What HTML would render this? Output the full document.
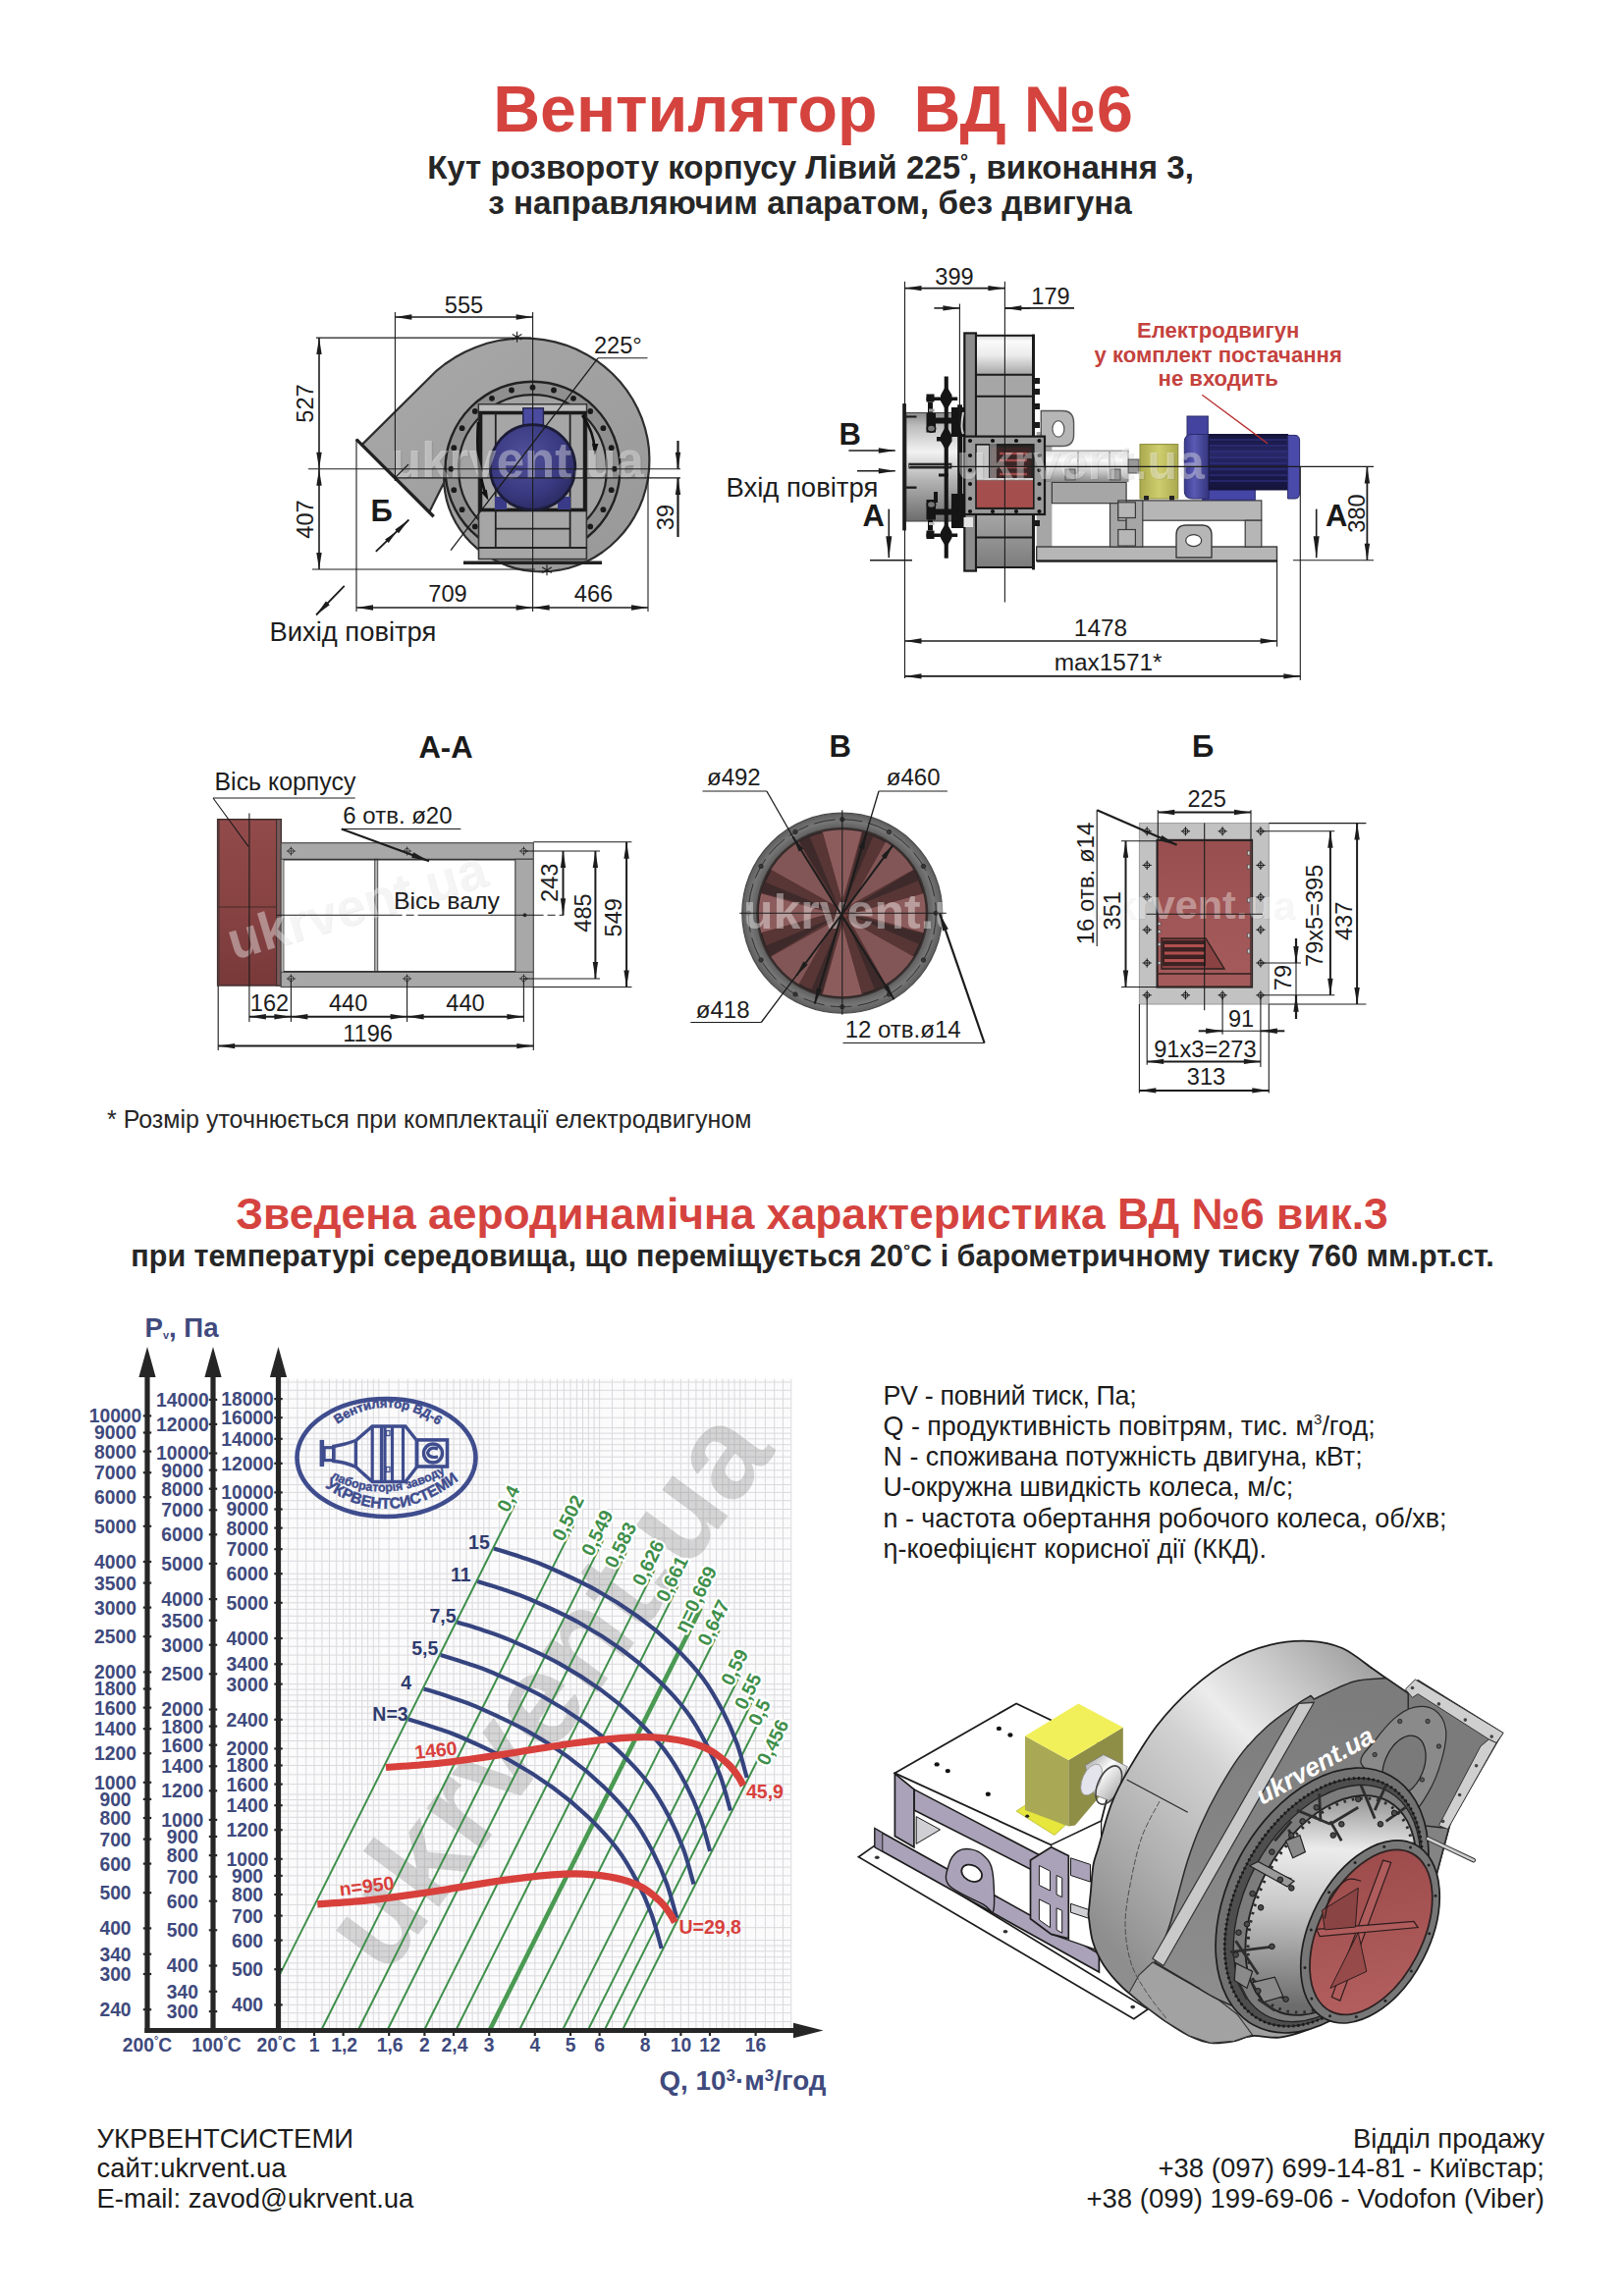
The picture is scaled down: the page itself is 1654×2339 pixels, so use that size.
<!DOCTYPE html>
<html lang="uk"><head><meta charset="utf-8"><title>Вентилятор ВД №6</title>
<style>
html,body{margin:0;padding:0;background:#fff;}
body{width:1654px;height:2339px;overflow:hidden;}
svg{display:block;font-family:"Liberation Sans",sans-serif;}
</style></head><body>
<svg width="1654" height="2339" viewBox="0 0 1654 2339">
<rect width="1654" height="2339" fill="#fff"/>
<g id="texts">
<text x="828" y="133.5" font-size="66.3" font-weight="bold" text-anchor="middle" fill="#d5433f" >Вентилятор&#160;&#160;ВД №6</text>
<text x="825.5" y="181.5" font-size="33.1" font-weight="bold" text-anchor="middle" fill="#262626" >Кут розвороту корпусу Лівий 225<tspan font-size="20" dy="-11">°</tspan><tspan dy="11">, виконання 3,</tspan></text>
<text x="825" y="217.5" font-size="33.2" font-weight="bold" text-anchor="middle" fill="#262626" >з направляючим апаратом, без двигуна</text>
<text x="109" y="1149" font-size="25" fill="#262626" >* Розмір уточнюється при комплектації електродвигуном</text>
<text x="827" y="1251.7" font-size="44.4" font-weight="bold" text-anchor="middle" fill="#d5433f" >Зведена аеродинамічна характеристика ВД №6 вик.3</text>
<text x="827.5" y="1290" font-size="30.5" font-weight="bold" text-anchor="middle" fill="#262626" >при температурі середовища, що переміщується 20<tspan font-size="18" dy="-10">°</tspan><tspan dy="10">С і барометричному тиску 760 мм.рт.ст.</tspan></text>
<text x="899.5" y="1430.9" font-size="26.9" fill="#1c1c1c" letter-spacing="-0.35">PV - повний тиск, Па;</text>
<text x="899.5" y="1461.9" font-size="26.9" fill="#1c1c1c" >Q - продуктивність повітрям, тис. м<tspan font-size="15" dy="-11">3</tspan><tspan dy="11">/год;</tspan></text>
<text x="899.5" y="1493.4" font-size="26.9" fill="#1c1c1c" >N - споживана потужність двигуна, кВт;</text>
<text x="899.5" y="1524.4" font-size="26.9" fill="#1c1c1c" >U-окружна швидкість колеса, м/с;</text>
<text x="899.5" y="1555.9" font-size="26.9" fill="#1c1c1c" >n - частота обертання робочого колеса, об/хв;</text>
<text x="899.5" y="1586.9" font-size="26.9" fill="#1c1c1c" >η-коефіцієнт корисної дії (ККД).</text>
<text x="98.5" y="2187.7" font-size="27.5" fill="#1c1c1c" >УКРВЕНТСИСТЕМИ</text>
<text x="98.5" y="2218.2" font-size="27.5" fill="#1c1c1c" >сайт:ukrvent.ua</text>
<text x="98.5" y="2248.7" font-size="27.5" fill="#1c1c1c" >E-mail: zavod@ukrvent.ua</text>
<text x="1573" y="2187.7" font-size="27.5" text-anchor="end" fill="#1c1c1c" >Відділ продажу</text>
<text x="1573" y="2218.2" font-size="27.5" text-anchor="end" fill="#1c1c1c" >+38 (097) 699-14-81 - Київстар;</text>
<text x="1573" y="2248.7" font-size="27.5" text-anchor="end" fill="#1c1c1c" >+38 (099) 199-69-06 - Vodofon (Viber)</text>
</g>
<g id="chart">
<rect x="283.5" y="1404.7" width="522" height="663.8" fill="#fbfbfc" stroke="none" stroke-width="1" />
<path d="M293.6,1404.7V2068.5M302.9,1404.7V2068.5M311.7,1404.7V2068.5M320,1404.7V2068.5M327.9,1404.7V2068.5M335.5,1404.7V2068.5M342.7,1404.7V2068.5M349.6,1404.7V2068.5M356.2,1404.7V2068.5M362.5,1404.7V2068.5M368.7,1404.7V2068.5M374.6,1404.7V2068.5M380.3,1404.7V2068.5M385.8,1404.7V2068.5M396.2,1404.7V2068.5M406,1404.7V2068.5M415.3,1404.7V2068.5M424.1,1404.7V2068.5M432.4,1404.7V2068.5M440.3,1404.7V2068.5M447.9,1404.7V2068.5M455.1,1404.7V2068.5M462,1404.7V2068.5M468.6,1404.7V2068.5M475,1404.7V2068.5M481.1,1404.7V2068.5M487,1404.7V2068.5M492.7,1404.7V2068.5M498.2,1404.7V2068.5M508.6,1404.7V2068.5M518.5,1404.7V2068.5M527.7,1404.7V2068.5M536.5,1404.7V2068.5M544.8,1404.7V2068.5M552.7,1404.7V2068.5M560.3,1404.7V2068.5M567.5,1404.7V2068.5M574.4,1404.7V2068.5M581,1404.7V2068.5M587.4,1404.7V2068.5M593.5,1404.7V2068.5M599.4,1404.7V2068.5M605.1,1404.7V2068.5M610.6,1404.7V2068.5M623.5,1404.7V2068.5M635.6,1404.7V2068.5M646.7,1404.7V2068.5M657.2,1404.7V2068.5M667,1404.7V2068.5M676.3,1404.7V2068.5M685.1,1404.7V2068.5M693.4,1404.7V2068.5M701.3,1404.7V2068.5M708.9,1404.7V2068.5M716.1,1404.7V2068.5M723,1404.7V2068.5M729.6,1404.7V2068.5M735.9,1404.7V2068.5M742.1,1404.7V2068.5M748,1404.7V2068.5M753.7,1404.7V2068.5M759.2,1404.7V2068.5M769.6,1404.7V2068.5M779.4,1404.7V2068.5M788.7,1404.7V2068.5M797.5,1404.7V2068.5M805.8,1404.7V2068.5M283.5,2059.5H805.5M283.5,2050.7H805.5M283.5,2042.4H805.5M283.5,2034.5H805.5M283.5,2026.9H805.5M283.5,2019.7H805.5M283.5,2012.8H805.5M283.5,2006.2H805.5M283.5,1999.8H805.5M283.5,1993.7H805.5M283.5,1987.8H805.5M283.5,1982.1H805.5M283.5,1976.6H805.5M283.5,1963.7H805.5M283.5,1951.6H805.5M283.5,1940.5H805.5M283.5,1930H805.5M283.5,1920.2H805.5M283.5,1910.9H805.5M283.5,1902.1H805.5M283.5,1893.8H805.5M283.5,1885.9H805.5M283.5,1878.3H805.5M283.5,1871.1H805.5M283.5,1864.2H805.5M283.5,1857.6H805.5M283.5,1851.3H805.5M283.5,1845.1H805.5M283.5,1839.2H805.5M283.5,1833.5H805.5M283.5,1828H805.5M283.5,1817.6H805.5M283.5,1807.8H805.5M283.5,1798.5H805.5M283.5,1789.7H805.5M283.5,1781.4H805.5M283.5,1773.5H805.5M283.5,1765.9H805.5M283.5,1758.7H805.5M283.5,1751.8H805.5M283.5,1745.2H805.5M283.5,1738.8H805.5M283.5,1732.7H805.5M283.5,1726.8H805.5M283.5,1721.1H805.5M283.5,1715.6H805.5M283.5,1705.2H805.5M283.5,1695.3H805.5M283.5,1686.1H805.5M283.5,1677.3H805.5M283.5,1669H805.5M283.5,1661.1H805.5M283.5,1653.5H805.5M283.5,1646.3H805.5M283.5,1639.4H805.5M283.5,1632.8H805.5M283.5,1626.4H805.5M283.5,1620.3H805.5M283.5,1614.4H805.5M283.5,1608.7H805.5M283.5,1603.2H805.5M283.5,1590.3H805.5M283.5,1578.2H805.5M283.5,1567.1H805.5M283.5,1556.6H805.5M283.5,1546.8H805.5M283.5,1537.5H805.5M283.5,1528.7H805.5M283.5,1520.4H805.5M283.5,1512.5H805.5M283.5,1504.9H805.5M283.5,1497.7H805.5M283.5,1490.8H805.5M283.5,1484.2H805.5M283.5,1477.9H805.5M283.5,1471.7H805.5M283.5,1465.8H805.5M283.5,1460.1H805.5M283.5,1454.6H805.5M283.5,1444.2H805.5M283.5,1434.4H805.5M283.5,1425.1H805.5M283.5,1416.3H805.5M283.5,1408H805.5" fill="none" stroke="#dadade" stroke-width="1" />
<text x="0" y="0" font-size="132" font-weight="bold" fill="#7d7d7d" fill-opacity="0.31" transform="translate(393.4,2014.8) rotate(-53.5)">ukrvent.ua</text>
<line x1="283.5" y1="2014.4" x2="524.5" y2="1532.5" stroke="#3f8f4b" stroke-width="2" />
<line x1="327.8" y1="2067" x2="584.3" y2="1553.9" stroke="#3f8f4b" stroke-width="2" />
<line x1="365.3" y1="2067" x2="614.2" y2="1569.1" stroke="#3f8f4b" stroke-width="2" />
<line x1="395.1" y1="2067" x2="638" y2="1581.3" stroke="#3f8f4b" stroke-width="2" />
<line x1="432.6" y1="2067" x2="666.3" y2="1599.6" stroke="#3f8f4b" stroke-width="2" />
<line x1="464.9" y1="2067" x2="690.5" y2="1615.8" stroke="#3f8f4b" stroke-width="2" />
<line x1="499.3" y1="2067" x2="713.7" y2="1638.2" stroke="#4a9a52" stroke-width="4.6" />
<line x1="529.5" y1="2067" x2="732.8" y2="1660.5" stroke="#3f8f4b" stroke-width="2" />
<line x1="573.5" y1="2067" x2="754.4" y2="1705.2" stroke="#3f8f4b" stroke-width="2" />
<line x1="599.4" y1="2067" x2="768.1" y2="1729.6" stroke="#3f8f4b" stroke-width="2" />
<line x1="616.2" y1="2067" x2="774.2" y2="1751" stroke="#3f8f4b" stroke-width="2" />
<line x1="634.5" y1="2067" x2="775.8" y2="1784.5" stroke="#3f8f4b" stroke-width="2" />
<text x="0" y="0" font-size="19.5" font-weight="bold" fill="#3f8f4b" stroke="#ffffff" stroke-width="4.5" stroke-linejoin="round" paint-order="stroke" transform="translate(517.6,1541.8) rotate(-63.4)">0,4</text>
<text x="0" y="0" font-size="19.5" font-weight="bold" fill="#3f8f4b" stroke="#ffffff" stroke-width="4.5" stroke-linejoin="round" paint-order="stroke" transform="translate(573.4,1571.3) rotate(-63.4)">0,502</text>
<text x="0" y="0" font-size="19.5" font-weight="bold" fill="#3f8f4b" stroke="#ffffff" stroke-width="4.5" stroke-linejoin="round" paint-order="stroke" transform="translate(603.3,1586.5) rotate(-63.4)">0,549</text>
<text x="0" y="0" font-size="19.5" font-weight="bold" fill="#3f8f4b" stroke="#ffffff" stroke-width="4.5" stroke-linejoin="round" paint-order="stroke" transform="translate(627,1598.7) rotate(-63.4)">0,583</text>
<text x="0" y="0" font-size="19.5" font-weight="bold" fill="#3f8f4b" stroke="#ffffff" stroke-width="4.5" stroke-linejoin="round" paint-order="stroke" transform="translate(655.3,1617) rotate(-63.4)">0,626</text>
<text x="0" y="0" font-size="19.5" font-weight="bold" fill="#3f8f4b" stroke="#ffffff" stroke-width="4.5" stroke-linejoin="round" paint-order="stroke" transform="translate(679.5,1633.2) rotate(-63.4)">0,661</text>
<text x="0" y="0" font-size="19.5" font-weight="bold" fill="#3f8f4b" stroke="#ffffff" stroke-width="4.5" stroke-linejoin="round" paint-order="stroke" transform="translate(698.4,1664.4) rotate(-63.4)">η=0,669</text>
<text x="0" y="0" font-size="19.5" font-weight="bold" fill="#3f8f4b" stroke="#ffffff" stroke-width="4.5" stroke-linejoin="round" paint-order="stroke" transform="translate(721.8,1677.9) rotate(-63.4)">0,647</text>
<text x="0" y="0" font-size="19.5" font-weight="bold" fill="#3f8f4b" stroke="#ffffff" stroke-width="4.5" stroke-linejoin="round" paint-order="stroke" transform="translate(745.5,1718.6) rotate(-63.4)">0,59</text>
<text x="0" y="0" font-size="19.5" font-weight="bold" fill="#3f8f4b" stroke="#ffffff" stroke-width="4.5" stroke-linejoin="round" paint-order="stroke" transform="translate(759.2,1743) rotate(-63.4)">0,55</text>
<text x="0" y="0" font-size="19.5" font-weight="bold" fill="#3f8f4b" stroke="#ffffff" stroke-width="4.5" stroke-linejoin="round" paint-order="stroke" transform="translate(773.2,1759.6) rotate(-63.4)">0,5</text>
<text x="0" y="0" font-size="19.5" font-weight="bold" fill="#3f8f4b" stroke="#ffffff" stroke-width="4.5" stroke-linejoin="round" paint-order="stroke" transform="translate(782.1,1799.7) rotate(-63.4)">0,456</text>
<path d="M503,1577.5 C507.5,1578.9 521.2,1583 530,1586 C538.8,1589 543.2,1589.9 556,1595.5 C568.8,1601.1 590.8,1610.9 606.5,1619.5 C622.2,1628.1 636.8,1637.4 650,1647 C663.2,1656.6 675,1666.5 686,1677 C697,1687.5 707.7,1699 716,1710 C724.3,1721 730.2,1732 736,1743 C741.8,1754 746.4,1764.7 750.5,1776 C754.6,1787.3 759,1805.2 760.7,1811" fill="none" stroke="#35447f" stroke-width="4.2" />
<text x="498.8" y="1577.9" font-size="19.5" font-weight="bold" text-anchor="end" fill="#2f3b6e" >15</text>
<path d="M486.2,1611 C490.7,1612.4 504.4,1616.5 513.2,1619.5 C522.1,1622.5 526.5,1623.4 539.2,1629 C552,1634.6 574.1,1644.4 589.7,1653 C605.4,1661.6 620,1670.9 633.2,1680.5 C646.5,1690.1 658.2,1700 669.2,1710.5 C680.2,1721 690.9,1732.5 699.2,1743.5 C707.6,1754.5 713.5,1765.5 719.2,1776.5 C725,1787.5 729.6,1798.2 733.7,1809.5 C737.9,1820.9 742.2,1838.7 743.9,1844.5" fill="none" stroke="#35447f" stroke-width="4.2" />
<text x="479.6" y="1611.2" font-size="19.5" font-weight="bold" text-anchor="end" fill="#2f3b6e" >11</text>
<path d="M465.5,1652.4 C470,1653.9 483.7,1657.9 492.5,1660.9 C501.4,1663.9 505.8,1664.9 518.5,1670.4 C531.3,1676 553.4,1685.9 569,1694.4 C584.7,1703 599.3,1712.4 612.5,1721.9 C625.8,1731.5 637.5,1741.4 648.5,1751.9 C659.5,1762.4 670.2,1773.9 678.5,1784.9 C686.9,1795.9 692.8,1806.9 698.5,1817.9 C704.3,1828.9 708.9,1839.6 713,1850.9 C717.1,1862.3 721.5,1880.1 723.2,1885.9" fill="none" stroke="#35447f" stroke-width="4.2" />
<text x="464.6" y="1652.7" font-size="19.5" font-weight="bold" text-anchor="end" fill="#2f3b6e" >7,5</text>
<path d="M448.8,1686 C453.3,1687.4 466.9,1691.5 475.8,1694.5 C484.6,1697.5 489,1698.4 501.8,1704 C514.5,1709.6 536.6,1719.4 552.3,1728 C567.9,1736.6 582.5,1745.9 595.8,1755.5 C609,1765.1 620.8,1775 631.8,1785.5 C642.8,1796 653.4,1807.5 661.8,1818.5 C670.1,1829.5 676,1840.5 681.8,1851.5 C687.5,1862.5 692.1,1873.1 696.3,1884.5 C700.4,1895.8 704.8,1913.6 706.5,1919.5" fill="none" stroke="#35447f" stroke-width="4.2" />
<text x="446.3" y="1686" font-size="19.5" font-weight="bold" text-anchor="end" fill="#2f3b6e" >5,5</text>
<path d="M431.6,1720.4 C436.1,1721.8 449.7,1725.9 458.6,1728.9 C467.4,1731.9 471.8,1732.8 484.6,1738.4 C497.3,1744 519.4,1753.8 535.1,1762.4 C550.7,1771 565.3,1780.3 578.6,1789.9 C591.8,1799.5 603.6,1809.4 614.6,1819.9 C625.6,1830.4 636.2,1841.9 644.6,1852.9 C652.9,1863.9 658.8,1874.9 664.6,1885.9 C670.3,1896.9 674.9,1907.6 679.1,1918.9 C683.2,1930.2 687.6,1948.1 689.3,1953.9" fill="none" stroke="#35447f" stroke-width="4.2" />
<text x="419" y="1720.9" font-size="19.5" font-weight="bold" text-anchor="end" fill="#2f3b6e" >4</text>
<path d="M416,1751.5 C420.5,1752.9 434.2,1757 443,1760 C451.8,1763 456.3,1763.9 469,1769.5 C481.8,1775.1 503.8,1784.9 519.5,1793.5 C535.2,1802.1 549.8,1811.4 563,1821 C576.3,1830.6 588,1840.5 599,1851 C610,1861.5 620.7,1873 629,1884 C637.3,1895 643.3,1906 649,1917 C654.8,1928 659.4,1938.7 663.5,1950 C667.6,1961.3 672,1979.2 673.7,1985" fill="none" stroke="#35447f" stroke-width="4.2" />
<text x="415.7" y="1752.5" font-size="19.5" font-weight="bold" text-anchor="end" fill="#2f3b6e" >N=3</text>
<path d="M393,1800.5 C400.8,1799.9 425.5,1798.4 440,1797 C454.5,1795.6 466.3,1793.9 480,1792 C493.7,1790.1 504.2,1788.5 522,1785.8 C539.8,1783 566.5,1778.2 587,1775.5 C607.5,1772.8 630.3,1770.6 645,1769.8 C659.7,1769 665.2,1769.5 675,1770.5 C684.8,1771.5 695.8,1773.3 704,1775.5 C712.2,1777.7 717.7,1779.8 724,1783.5 C730.3,1787.2 737.3,1793.1 742,1797.5 C746.7,1801.9 749.5,1806.4 752,1810 C754.5,1813.6 756.2,1817.5 757,1819" fill="none" stroke="#d8403c" stroke-width="7.2" />
<path d="M323.3,1939.9 C331.1,1939.3 355.8,1937.8 370.3,1936.4 C384.8,1935 396.6,1933.3 410.3,1931.4 C424,1929.5 434.5,1928 452.3,1925.2 C470.1,1922.5 496.8,1917.6 517.3,1914.9 C537.8,1912.2 560.6,1910 575.3,1909.2 C590,1908.4 595.5,1909 605.3,1909.9 C615.1,1910.9 626.1,1912.7 634.3,1914.9 C642.5,1917.1 648,1919.2 654.3,1922.9 C660.6,1926.6 667.6,1932.5 672.3,1936.9 C677,1941.3 679.8,1945.8 682.3,1949.4 C684.8,1953 686.5,1956.9 687.3,1958.4" fill="none" stroke="#d8403c" stroke-width="7.2" />
<text x="423" y="1792" font-size="19.5" font-weight="bold" fill="#d8403c" transform="rotate(-6 423 1792)" >1460</text>
<text x="346.5" y="1931.5" font-size="19.5" font-weight="bold" fill="#d8403c" transform="rotate(-7 346.5 1931.5)" >n=950</text>
<text x="760" y="1831.6" font-size="19.5" font-weight="bold" fill="#d8403c" >45,9</text>
<text x="691.5" y="1970.3" font-size="19.5" font-weight="bold" fill="#d8403c" >U=29,8</text>
<line x1="150" y1="1400" x2="150" y2="2071" stroke="#262626" stroke-width="5.2" />
<polygon points="150,1372 141.4,1403 158.6,1403" fill="#262626" stroke="none" stroke-width="1" />
<line x1="217" y1="1400" x2="217" y2="2071" stroke="#262626" stroke-width="5.2" />
<polygon points="217,1372 208.4,1403 225.6,1403" fill="#262626" stroke="none" stroke-width="1" />
<line x1="283.5" y1="1400" x2="283.5" y2="2071" stroke="#262626" stroke-width="5.2" />
<polygon points="283.5,1372 274.9,1403 292.1,1403" fill="#262626" stroke="none" stroke-width="1" />
<line x1="147.4" y1="2068.5" x2="810" y2="2068.5" stroke="#262626" stroke-width="5.2" />
<polygon points="838.5,2068.5 808,2060.8 808,2076.2" fill="#262626" stroke="none" stroke-width="1" />
<line x1="279.3" y1="1425.1" x2="287.7" y2="1425.1" stroke="#262626" stroke-width="2.2" />
<text x="252" y="1432" font-size="19.3" font-weight="bold" text-anchor="middle" fill="#3f4a7d" >18000</text>
<line x1="279.3" y1="1444.2" x2="287.7" y2="1444.2" stroke="#262626" stroke-width="2.2" />
<text x="252" y="1451.1" font-size="19.3" font-weight="bold" text-anchor="middle" fill="#3f4a7d" >16000</text>
<line x1="279.3" y1="1465.8" x2="287.7" y2="1465.8" stroke="#262626" stroke-width="2.2" />
<text x="252" y="1472.7" font-size="19.3" font-weight="bold" text-anchor="middle" fill="#3f4a7d" >14000</text>
<line x1="279.3" y1="1490.8" x2="287.7" y2="1490.8" stroke="#262626" stroke-width="2.2" />
<text x="252" y="1497.7" font-size="19.3" font-weight="bold" text-anchor="middle" fill="#3f4a7d" >12000</text>
<line x1="279.3" y1="1520.4" x2="287.7" y2="1520.4" stroke="#262626" stroke-width="2.2" />
<text x="252" y="1527.3" font-size="19.3" font-weight="bold" text-anchor="middle" fill="#3f4a7d" >10000</text>
<line x1="279.3" y1="1537.5" x2="287.7" y2="1537.5" stroke="#262626" stroke-width="2.2" />
<text x="252" y="1544.4" font-size="19.3" font-weight="bold" text-anchor="middle" fill="#3f4a7d" >9000</text>
<line x1="279.3" y1="1556.6" x2="287.7" y2="1556.6" stroke="#262626" stroke-width="2.2" />
<text x="252" y="1563.5" font-size="19.3" font-weight="bold" text-anchor="middle" fill="#3f4a7d" >8000</text>
<line x1="279.3" y1="1578.2" x2="287.7" y2="1578.2" stroke="#262626" stroke-width="2.2" />
<text x="252" y="1585.1" font-size="19.3" font-weight="bold" text-anchor="middle" fill="#3f4a7d" >7000</text>
<line x1="279.3" y1="1603.2" x2="287.7" y2="1603.2" stroke="#262626" stroke-width="2.2" />
<text x="252" y="1610.1" font-size="19.3" font-weight="bold" text-anchor="middle" fill="#3f4a7d" >6000</text>
<line x1="279.3" y1="1632.8" x2="287.7" y2="1632.8" stroke="#262626" stroke-width="2.2" />
<text x="252" y="1639.7" font-size="19.3" font-weight="bold" text-anchor="middle" fill="#3f4a7d" >5000</text>
<line x1="279.3" y1="1669" x2="287.7" y2="1669" stroke="#262626" stroke-width="2.2" />
<text x="252" y="1675.9" font-size="19.3" font-weight="bold" text-anchor="middle" fill="#3f4a7d" >4000</text>
<line x1="279.3" y1="1695.3" x2="287.7" y2="1695.3" stroke="#262626" stroke-width="2.2" />
<text x="252" y="1702.2" font-size="19.3" font-weight="bold" text-anchor="middle" fill="#3f4a7d" >3400</text>
<line x1="279.3" y1="1715.6" x2="287.7" y2="1715.6" stroke="#262626" stroke-width="2.2" />
<text x="252" y="1722.5" font-size="19.3" font-weight="bold" text-anchor="middle" fill="#3f4a7d" >3000</text>
<line x1="279.3" y1="1751.8" x2="287.7" y2="1751.8" stroke="#262626" stroke-width="2.2" />
<text x="252" y="1758.7" font-size="19.3" font-weight="bold" text-anchor="middle" fill="#3f4a7d" >2400</text>
<line x1="279.3" y1="1781.4" x2="287.7" y2="1781.4" stroke="#262626" stroke-width="2.2" />
<text x="252" y="1788.3" font-size="19.3" font-weight="bold" text-anchor="middle" fill="#3f4a7d" >2000</text>
<line x1="279.3" y1="1798.5" x2="287.7" y2="1798.5" stroke="#262626" stroke-width="2.2" />
<text x="252" y="1805.4" font-size="19.3" font-weight="bold" text-anchor="middle" fill="#3f4a7d" >1800</text>
<line x1="279.3" y1="1817.6" x2="287.7" y2="1817.6" stroke="#262626" stroke-width="2.2" />
<text x="252" y="1824.5" font-size="19.3" font-weight="bold" text-anchor="middle" fill="#3f4a7d" >1600</text>
<line x1="279.3" y1="1839.2" x2="287.7" y2="1839.2" stroke="#262626" stroke-width="2.2" />
<text x="252" y="1846.1" font-size="19.3" font-weight="bold" text-anchor="middle" fill="#3f4a7d" >1400</text>
<line x1="279.3" y1="1864.2" x2="287.7" y2="1864.2" stroke="#262626" stroke-width="2.2" />
<text x="252" y="1871.1" font-size="19.3" font-weight="bold" text-anchor="middle" fill="#3f4a7d" >1200</text>
<line x1="279.3" y1="1893.8" x2="287.7" y2="1893.8" stroke="#262626" stroke-width="2.2" />
<text x="252" y="1900.7" font-size="19.3" font-weight="bold" text-anchor="middle" fill="#3f4a7d" >1000</text>
<line x1="279.3" y1="1910.9" x2="287.7" y2="1910.9" stroke="#262626" stroke-width="2.2" />
<text x="252" y="1917.8" font-size="19.3" font-weight="bold" text-anchor="middle" fill="#3f4a7d" >900</text>
<line x1="279.3" y1="1930" x2="287.7" y2="1930" stroke="#262626" stroke-width="2.2" />
<text x="252" y="1936.9" font-size="19.3" font-weight="bold" text-anchor="middle" fill="#3f4a7d" >800</text>
<line x1="279.3" y1="1951.6" x2="287.7" y2="1951.6" stroke="#262626" stroke-width="2.2" />
<text x="252" y="1958.5" font-size="19.3" font-weight="bold" text-anchor="middle" fill="#3f4a7d" >700</text>
<line x1="279.3" y1="1976.6" x2="287.7" y2="1976.6" stroke="#262626" stroke-width="2.2" />
<text x="252" y="1983.5" font-size="19.3" font-weight="bold" text-anchor="middle" fill="#3f4a7d" >600</text>
<line x1="279.3" y1="2006.2" x2="287.7" y2="2006.2" stroke="#262626" stroke-width="2.2" />
<text x="252" y="2013.1" font-size="19.3" font-weight="bold" text-anchor="middle" fill="#3f4a7d" >500</text>
<line x1="279.3" y1="2042.4" x2="287.7" y2="2042.4" stroke="#262626" stroke-width="2.2" />
<text x="252" y="2049.3" font-size="19.3" font-weight="bold" text-anchor="middle" fill="#3f4a7d" >400</text>
<line x1="212.8" y1="1425.9" x2="221.2" y2="1425.9" stroke="#262626" stroke-width="2.2" />
<text x="185.8" y="1432.8" font-size="19.3" font-weight="bold" text-anchor="middle" fill="#3f4a7d" >14000</text>
<line x1="212.8" y1="1450.9" x2="221.2" y2="1450.9" stroke="#262626" stroke-width="2.2" />
<text x="185.8" y="1457.8" font-size="19.3" font-weight="bold" text-anchor="middle" fill="#3f4a7d" >12000</text>
<line x1="212.8" y1="1480.5" x2="221.2" y2="1480.5" stroke="#262626" stroke-width="2.2" />
<text x="185.8" y="1487.4" font-size="19.3" font-weight="bold" text-anchor="middle" fill="#3f4a7d" >10000</text>
<line x1="212.8" y1="1497.6" x2="221.2" y2="1497.6" stroke="#262626" stroke-width="2.2" />
<text x="185.8" y="1504.5" font-size="19.3" font-weight="bold" text-anchor="middle" fill="#3f4a7d" >9000</text>
<line x1="212.8" y1="1516.7" x2="221.2" y2="1516.7" stroke="#262626" stroke-width="2.2" />
<text x="185.8" y="1523.6" font-size="19.3" font-weight="bold" text-anchor="middle" fill="#3f4a7d" >8000</text>
<line x1="212.8" y1="1538.3" x2="221.2" y2="1538.3" stroke="#262626" stroke-width="2.2" />
<text x="185.8" y="1545.2" font-size="19.3" font-weight="bold" text-anchor="middle" fill="#3f4a7d" >7000</text>
<line x1="212.8" y1="1563.3" x2="221.2" y2="1563.3" stroke="#262626" stroke-width="2.2" />
<text x="185.8" y="1570.2" font-size="19.3" font-weight="bold" text-anchor="middle" fill="#3f4a7d" >6000</text>
<line x1="212.8" y1="1592.9" x2="221.2" y2="1592.9" stroke="#262626" stroke-width="2.2" />
<text x="185.8" y="1599.8" font-size="19.3" font-weight="bold" text-anchor="middle" fill="#3f4a7d" >5000</text>
<line x1="212.8" y1="1629.1" x2="221.2" y2="1629.1" stroke="#262626" stroke-width="2.2" />
<text x="185.8" y="1636" font-size="19.3" font-weight="bold" text-anchor="middle" fill="#3f4a7d" >4000</text>
<line x1="212.8" y1="1650.7" x2="221.2" y2="1650.7" stroke="#262626" stroke-width="2.2" />
<text x="185.8" y="1657.6" font-size="19.3" font-weight="bold" text-anchor="middle" fill="#3f4a7d" >3500</text>
<line x1="212.8" y1="1675.7" x2="221.2" y2="1675.7" stroke="#262626" stroke-width="2.2" />
<text x="185.8" y="1682.6" font-size="19.3" font-weight="bold" text-anchor="middle" fill="#3f4a7d" >3000</text>
<line x1="212.8" y1="1705.3" x2="221.2" y2="1705.3" stroke="#262626" stroke-width="2.2" />
<text x="185.8" y="1712.2" font-size="19.3" font-weight="bold" text-anchor="middle" fill="#3f4a7d" >2500</text>
<line x1="212.8" y1="1741.5" x2="221.2" y2="1741.5" stroke="#262626" stroke-width="2.2" />
<text x="185.8" y="1748.4" font-size="19.3" font-weight="bold" text-anchor="middle" fill="#3f4a7d" >2000</text>
<line x1="212.8" y1="1758.6" x2="221.2" y2="1758.6" stroke="#262626" stroke-width="2.2" />
<text x="185.8" y="1765.5" font-size="19.3" font-weight="bold" text-anchor="middle" fill="#3f4a7d" >1800</text>
<line x1="212.8" y1="1777.7" x2="221.2" y2="1777.7" stroke="#262626" stroke-width="2.2" />
<text x="185.8" y="1784.6" font-size="19.3" font-weight="bold" text-anchor="middle" fill="#3f4a7d" >1600</text>
<line x1="212.8" y1="1799.3" x2="221.2" y2="1799.3" stroke="#262626" stroke-width="2.2" />
<text x="185.8" y="1806.2" font-size="19.3" font-weight="bold" text-anchor="middle" fill="#3f4a7d" >1400</text>
<line x1="212.8" y1="1824.3" x2="221.2" y2="1824.3" stroke="#262626" stroke-width="2.2" />
<text x="185.8" y="1831.2" font-size="19.3" font-weight="bold" text-anchor="middle" fill="#3f4a7d" >1200</text>
<line x1="212.8" y1="1853.9" x2="221.2" y2="1853.9" stroke="#262626" stroke-width="2.2" />
<text x="185.8" y="1860.8" font-size="19.3" font-weight="bold" text-anchor="middle" fill="#3f4a7d" >1000</text>
<line x1="212.8" y1="1871" x2="221.2" y2="1871" stroke="#262626" stroke-width="2.2" />
<text x="185.8" y="1877.9" font-size="19.3" font-weight="bold" text-anchor="middle" fill="#3f4a7d" >900</text>
<line x1="212.8" y1="1890.1" x2="221.2" y2="1890.1" stroke="#262626" stroke-width="2.2" />
<text x="185.8" y="1897" font-size="19.3" font-weight="bold" text-anchor="middle" fill="#3f4a7d" >800</text>
<line x1="212.8" y1="1911.7" x2="221.2" y2="1911.7" stroke="#262626" stroke-width="2.2" />
<text x="185.8" y="1918.6" font-size="19.3" font-weight="bold" text-anchor="middle" fill="#3f4a7d" >700</text>
<line x1="212.8" y1="1936.7" x2="221.2" y2="1936.7" stroke="#262626" stroke-width="2.2" />
<text x="185.8" y="1943.6" font-size="19.3" font-weight="bold" text-anchor="middle" fill="#3f4a7d" >600</text>
<line x1="212.8" y1="1966.3" x2="221.2" y2="1966.3" stroke="#262626" stroke-width="2.2" />
<text x="185.8" y="1973.2" font-size="19.3" font-weight="bold" text-anchor="middle" fill="#3f4a7d" >500</text>
<line x1="212.8" y1="2002.5" x2="221.2" y2="2002.5" stroke="#262626" stroke-width="2.2" />
<text x="185.8" y="2009.4" font-size="19.3" font-weight="bold" text-anchor="middle" fill="#3f4a7d" >400</text>
<line x1="212.8" y1="2028.8" x2="221.2" y2="2028.8" stroke="#262626" stroke-width="2.2" />
<text x="185.8" y="2035.7" font-size="19.3" font-weight="bold" text-anchor="middle" fill="#3f4a7d" >340</text>
<line x1="212.8" y1="2049.1" x2="221.2" y2="2049.1" stroke="#262626" stroke-width="2.2" />
<text x="185.8" y="2056" font-size="19.3" font-weight="bold" text-anchor="middle" fill="#3f4a7d" >300</text>
<line x1="145.8" y1="1442.4" x2="154.2" y2="1442.4" stroke="#262626" stroke-width="2.2" />
<text x="117.5" y="1449.3" font-size="19.3" font-weight="bold" text-anchor="middle" fill="#3f4a7d" >10000</text>
<line x1="145.8" y1="1459.5" x2="154.2" y2="1459.5" stroke="#262626" stroke-width="2.2" />
<text x="117.5" y="1466.4" font-size="19.3" font-weight="bold" text-anchor="middle" fill="#3f4a7d" >9000</text>
<line x1="145.8" y1="1478.6" x2="154.2" y2="1478.6" stroke="#262626" stroke-width="2.2" />
<text x="117.5" y="1485.5" font-size="19.3" font-weight="bold" text-anchor="middle" fill="#3f4a7d" >8000</text>
<line x1="145.8" y1="1500.2" x2="154.2" y2="1500.2" stroke="#262626" stroke-width="2.2" />
<text x="117.5" y="1507.1" font-size="19.3" font-weight="bold" text-anchor="middle" fill="#3f4a7d" >7000</text>
<line x1="145.8" y1="1525.2" x2="154.2" y2="1525.2" stroke="#262626" stroke-width="2.2" />
<text x="117.5" y="1532.1" font-size="19.3" font-weight="bold" text-anchor="middle" fill="#3f4a7d" >6000</text>
<line x1="145.8" y1="1554.8" x2="154.2" y2="1554.8" stroke="#262626" stroke-width="2.2" />
<text x="117.5" y="1561.7" font-size="19.3" font-weight="bold" text-anchor="middle" fill="#3f4a7d" >5000</text>
<line x1="145.8" y1="1591" x2="154.2" y2="1591" stroke="#262626" stroke-width="2.2" />
<text x="117.5" y="1597.9" font-size="19.3" font-weight="bold" text-anchor="middle" fill="#3f4a7d" >4000</text>
<line x1="145.8" y1="1612.6" x2="154.2" y2="1612.6" stroke="#262626" stroke-width="2.2" />
<text x="117.5" y="1619.5" font-size="19.3" font-weight="bold" text-anchor="middle" fill="#3f4a7d" >3500</text>
<line x1="145.8" y1="1637.6" x2="154.2" y2="1637.6" stroke="#262626" stroke-width="2.2" />
<text x="117.5" y="1644.5" font-size="19.3" font-weight="bold" text-anchor="middle" fill="#3f4a7d" >3000</text>
<line x1="145.8" y1="1667.2" x2="154.2" y2="1667.2" stroke="#262626" stroke-width="2.2" />
<text x="117.5" y="1674.1" font-size="19.3" font-weight="bold" text-anchor="middle" fill="#3f4a7d" >2500</text>
<line x1="145.8" y1="1703.4" x2="154.2" y2="1703.4" stroke="#262626" stroke-width="2.2" />
<text x="117.5" y="1710.3" font-size="19.3" font-weight="bold" text-anchor="middle" fill="#3f4a7d" >2000</text>
<line x1="145.8" y1="1720.5" x2="154.2" y2="1720.5" stroke="#262626" stroke-width="2.2" />
<text x="117.5" y="1727.4" font-size="19.3" font-weight="bold" text-anchor="middle" fill="#3f4a7d" >1800</text>
<line x1="145.8" y1="1739.6" x2="154.2" y2="1739.6" stroke="#262626" stroke-width="2.2" />
<text x="117.5" y="1746.5" font-size="19.3" font-weight="bold" text-anchor="middle" fill="#3f4a7d" >1600</text>
<line x1="145.8" y1="1761.2" x2="154.2" y2="1761.2" stroke="#262626" stroke-width="2.2" />
<text x="117.5" y="1768.1" font-size="19.3" font-weight="bold" text-anchor="middle" fill="#3f4a7d" >1400</text>
<line x1="145.8" y1="1786.2" x2="154.2" y2="1786.2" stroke="#262626" stroke-width="2.2" />
<text x="117.5" y="1793.1" font-size="19.3" font-weight="bold" text-anchor="middle" fill="#3f4a7d" >1200</text>
<line x1="145.8" y1="1815.8" x2="154.2" y2="1815.8" stroke="#262626" stroke-width="2.2" />
<text x="117.5" y="1822.7" font-size="19.3" font-weight="bold" text-anchor="middle" fill="#3f4a7d" >1000</text>
<line x1="145.8" y1="1832.9" x2="154.2" y2="1832.9" stroke="#262626" stroke-width="2.2" />
<text x="117.5" y="1839.8" font-size="19.3" font-weight="bold" text-anchor="middle" fill="#3f4a7d" >900</text>
<line x1="145.8" y1="1852" x2="154.2" y2="1852" stroke="#262626" stroke-width="2.2" />
<text x="117.5" y="1858.9" font-size="19.3" font-weight="bold" text-anchor="middle" fill="#3f4a7d" >800</text>
<line x1="145.8" y1="1873.6" x2="154.2" y2="1873.6" stroke="#262626" stroke-width="2.2" />
<text x="117.5" y="1880.5" font-size="19.3" font-weight="bold" text-anchor="middle" fill="#3f4a7d" >700</text>
<line x1="145.8" y1="1898.6" x2="154.2" y2="1898.6" stroke="#262626" stroke-width="2.2" />
<text x="117.5" y="1905.5" font-size="19.3" font-weight="bold" text-anchor="middle" fill="#3f4a7d" >600</text>
<line x1="145.8" y1="1928.2" x2="154.2" y2="1928.2" stroke="#262626" stroke-width="2.2" />
<text x="117.5" y="1935.1" font-size="19.3" font-weight="bold" text-anchor="middle" fill="#3f4a7d" >500</text>
<line x1="145.8" y1="1964.4" x2="154.2" y2="1964.4" stroke="#262626" stroke-width="2.2" />
<text x="117.5" y="1971.3" font-size="19.3" font-weight="bold" text-anchor="middle" fill="#3f4a7d" >400</text>
<line x1="145.8" y1="1990.7" x2="154.2" y2="1990.7" stroke="#262626" stroke-width="2.2" />
<text x="117.5" y="1997.6" font-size="19.3" font-weight="bold" text-anchor="middle" fill="#3f4a7d" >340</text>
<line x1="145.8" y1="2011" x2="154.2" y2="2011" stroke="#262626" stroke-width="2.2" />
<text x="117.5" y="2017.9" font-size="19.3" font-weight="bold" text-anchor="middle" fill="#3f4a7d" >300</text>
<line x1="145.8" y1="2047.2" x2="154.2" y2="2047.2" stroke="#262626" stroke-width="2.2" />
<text x="117.5" y="2054.1" font-size="19.3" font-weight="bold" text-anchor="middle" fill="#3f4a7d" >240</text>
<line x1="320" y1="2066" x2="320" y2="2074" stroke="#262626" stroke-width="2.2" />
<text x="320" y="2090" font-size="19.3" font-weight="bold" text-anchor="middle" fill="#3f4a7d" >1</text>
<line x1="349.6" y1="2066" x2="349.6" y2="2074" stroke="#262626" stroke-width="2.2" />
<text x="350.6" y="2090" font-size="19.3" font-weight="bold" text-anchor="middle" fill="#3f4a7d" >1,2</text>
<line x1="396.2" y1="2066" x2="396.2" y2="2074" stroke="#262626" stroke-width="2.2" />
<text x="397.2" y="2090" font-size="19.3" font-weight="bold" text-anchor="middle" fill="#3f4a7d" >1,6</text>
<line x1="432.4" y1="2066" x2="432.4" y2="2074" stroke="#262626" stroke-width="2.2" />
<text x="432.4" y="2090" font-size="19.3" font-weight="bold" text-anchor="middle" fill="#3f4a7d" >2</text>
<line x1="462" y1="2066" x2="462" y2="2074" stroke="#262626" stroke-width="2.2" />
<text x="463" y="2090" font-size="19.3" font-weight="bold" text-anchor="middle" fill="#3f4a7d" >2,4</text>
<line x1="498.2" y1="2066" x2="498.2" y2="2074" stroke="#262626" stroke-width="2.2" />
<text x="498.2" y="2090" font-size="19.3" font-weight="bold" text-anchor="middle" fill="#3f4a7d" >3</text>
<line x1="544.8" y1="2066" x2="544.8" y2="2074" stroke="#262626" stroke-width="2.2" />
<text x="544.8" y="2090" font-size="19.3" font-weight="bold" text-anchor="middle" fill="#3f4a7d" >4</text>
<line x1="581" y1="2066" x2="581" y2="2074" stroke="#262626" stroke-width="2.2" />
<text x="581" y="2090" font-size="19.3" font-weight="bold" text-anchor="middle" fill="#3f4a7d" >5</text>
<line x1="610.6" y1="2066" x2="610.6" y2="2074" stroke="#262626" stroke-width="2.2" />
<text x="610.6" y="2090" font-size="19.3" font-weight="bold" text-anchor="middle" fill="#3f4a7d" >6</text>
<line x1="657.2" y1="2066" x2="657.2" y2="2074" stroke="#262626" stroke-width="2.2" />
<text x="657.2" y="2090" font-size="19.3" font-weight="bold" text-anchor="middle" fill="#3f4a7d" >8</text>
<line x1="693.4" y1="2066" x2="693.4" y2="2074" stroke="#262626" stroke-width="2.2" />
<text x="693.4" y="2090" font-size="19.3" font-weight="bold" text-anchor="middle" fill="#3f4a7d" >10</text>
<line x1="723" y1="2066" x2="723" y2="2074" stroke="#262626" stroke-width="2.2" />
<text x="723" y="2090" font-size="19.3" font-weight="bold" text-anchor="middle" fill="#3f4a7d" >12</text>
<line x1="769.6" y1="2066" x2="769.6" y2="2074" stroke="#262626" stroke-width="2.2" />
<text x="769.6" y="2090" font-size="19.3" font-weight="bold" text-anchor="middle" fill="#3f4a7d" >16</text>
<text x="150" y="2090" font-size="19.3" font-weight="bold" text-anchor="middle" fill="#3f4a7d" >200<tspan font-size="11" dy="-8">°</tspan><tspan dy="8">C</tspan></text>
<text x="220.5" y="2090" font-size="19.3" font-weight="bold" text-anchor="middle" fill="#3f4a7d" >100<tspan font-size="11" dy="-8">°</tspan><tspan dy="8">C</tspan></text>
<text x="281.5" y="2090" font-size="19.3" font-weight="bold" text-anchor="middle" fill="#3f4a7d" >20<tspan font-size="11" dy="-8">°</tspan><tspan dy="8">C</tspan></text>
<text x="147.5" y="1362" font-size="27.6" font-weight="bold" fill="#3f4a7d" >P<tspan font-size="11" dy="2">v</tspan><tspan dy="-2">, Па</tspan></text>
<text x="671.5" y="2129.3" font-size="27.8" font-weight="bold" fill="#3f4a7d" >Q, 10<tspan font-size="17" dy="-9">3</tspan><tspan dy="9">·м</tspan><tspan font-size="17" dy="-9">3</tspan><tspan dy="9">/год</tspan></text>
<ellipse cx="393.5" cy="1485" rx="91" ry="60" fill="none" stroke="#3f4d8e" stroke-width="4.6" />
<path id="lgt" d="M328,1463 Q393.5,1404 462,1464" fill="none"/>
<path id="lgm" d="M328,1501 Q393,1541 462,1495" fill="none"/>
<path id="lgb" d="M326,1511 Q396,1566 472,1504" fill="none"/>
<text font-size="13" font-weight="bold" fill="#3f4d8e" stroke="#3f4d8e" stroke-width="0.5" text-anchor="middle"><textPath href="#lgt" startOffset="50%">Вентилятор ВД-6</textPath></text>
<text font-size="12.5" font-weight="bold" fill="#3f4d8e" stroke="#3f4d8e" stroke-width="0.4" text-anchor="middle"><textPath href="#lgm" startOffset="50%">лабораторія заводу</textPath></text>
<text font-size="15.5" font-weight="bold" fill="#3f4d8e" stroke="#3f4d8e" stroke-width="0.5" text-anchor="middle"><textPath href="#lgb" startOffset="50%">УКРВЕНТСИСТЕМИ</textPath></text>
<rect x="325.6" y="1466.9" width="4.5" height="27.1" fill="#3f4d8e" stroke="none" stroke-width="1" />
<rect x="330.1" y="1474.7" width="9.7" height="12.9" fill="none" stroke="#3f4d8e" stroke-width="3.2" />
<path d="M339.8,1473.5 Q352,1471.5 362.4,1467.5 L379.2,1453 H412.9 L424.5,1467.5 V1494.5 L412.9,1509.5 H379.2 L362.4,1494.5 Q352,1489.5 339.8,1488.5 Z" fill="none" stroke="#3f4d8e" stroke-width="3.4" />
<line x1="362.4" y1="1467.5" x2="362.4" y2="1494.5" stroke="#3f4d8e" stroke-width="3.4" />
<line x1="379.2" y1="1453" x2="379.2" y2="1509.5" stroke="#3f4d8e" stroke-width="3.2" />
<line x1="388.5" y1="1453" x2="388.5" y2="1509.5" stroke="#3f4d8e" stroke-width="3.2" />
<line x1="392" y1="1453" x2="392" y2="1509.5" stroke="#3f4d8e" stroke-width="3.2" />
<line x1="399.5" y1="1453" x2="399.5" y2="1509.5" stroke="#3f4d8e" stroke-width="3.2" />
<line x1="410.5" y1="1453" x2="410.5" y2="1509.5" stroke="#3f4d8e" stroke-width="3.2" />
<rect x="424.5" y="1466.9" width="31" height="27.1" fill="none" stroke="#3f4d8e" stroke-width="3.6" />
<circle cx="441" cy="1480.5" r="9.5" fill="none" stroke="#3f4d8e" stroke-width="3.4" />
<path d="M446,1476 Q438,1473 435.5,1480 Q437,1486 446,1484" fill="none" stroke="#3f4d8e" stroke-width="3.2" />
<rect x="393.5" y="1457.5" width="3.5" height="5" fill="none" stroke="#3f4d8e" stroke-width="1.3" />
<rect x="393.5" y="1494.5" width="3.5" height="5" fill="none" stroke="#3f4d8e" stroke-width="1.3" />
</g>
<g id="draw1">
<defs><linearGradient id="volg" x1="0" y1="0" x2="1" y2="1"><stop offset="0" stop-color="#a9a9a9"/><stop offset="1" stop-color="#989898"/></linearGradient><radialGradient id="motg" cx="0.42" cy="0.38" r="0.7"><stop offset="0" stop-color="#52529c"/><stop offset="0.6" stop-color="#3a3a82"/><stop offset="1" stop-color="#28285e"/></radialGradient></defs>
<polygon points="452.5,477.7 452.1,485.6 452.3,493.6 453.3,501.6 454.9,509.6 457.3,517.4 460.4,525.1 464.2,532.5 468.7,539.6 473.8,546.4 479.5,552.7 485.9,558.6 492.7,563.9 500.1,568.6 507.9,572.7 516.1,576.1 524.7,578.9 533.5,580.8 542.5,582 551.7,582.4 560.9,582 570.1,580.7 579.3,578.7 588.3,575.8 597,572.2 605.5,567.7 613.6,562.5 621.3,556.5 628.5,549.8 635.1,542.5 641.1,534.6 646.4,526.1 651,517.2 654.8,507.8 657.7,498 659.9,488 661.1,477.7 661.4,467.3 660.9,456.8 659.4,446.4 656.9,436 653.6,425.9 649.3,416 644.2,406.5 638.2,397.4 631.4,388.8 623.8,380.8 615.5,373.4 606.6,366.7 597,360.9 586.9,355.8 576.3,351.6 565.3,348.4 554,346.1 542.5,344.8 530.8,344.5 519.1,345.3 507.5,347 496,349.8 484.7,353.7 473.7,358.5 463.1,364.3 453,371 443.5,378.7 368.5,453.1 437.2,521.7 453.5,489" fill="url(#volg)" stroke="#2e2e2e" stroke-width="2.2" stroke-linejoin="round"/>
<line x1="363" y1="447.6" x2="441.7" y2="526.2" stroke="#222" stroke-width="3.4" />
<circle cx="542.5" cy="477.7" r="89" fill="#8f8f8f" stroke="#222" stroke-width="2.4" />
<circle cx="542.5" cy="477.7" r="75.5" fill="#a3a3a3" stroke="#222" stroke-width="2.2" />
<circle cx="542.5" cy="394.7" r="2.9" fill="#1a1a1a" stroke="none" stroke-width="1" />
<circle cx="521" cy="397.5" r="2.9" fill="#1a1a1a" stroke="none" stroke-width="1" />
<circle cx="501" cy="405.8" r="2.9" fill="#1a1a1a" stroke="none" stroke-width="1" />
<circle cx="483.8" cy="419" r="2.9" fill="#1a1a1a" stroke="none" stroke-width="1" />
<circle cx="470.6" cy="436.2" r="2.9" fill="#1a1a1a" stroke="none" stroke-width="1" />
<circle cx="462.3" cy="456.2" r="2.9" fill="#1a1a1a" stroke="none" stroke-width="1" />
<circle cx="459.5" cy="477.7" r="2.9" fill="#1a1a1a" stroke="none" stroke-width="1" />
<circle cx="462.3" cy="499.2" r="2.9" fill="#1a1a1a" stroke="none" stroke-width="1" />
<circle cx="470.6" cy="519.2" r="2.9" fill="#1a1a1a" stroke="none" stroke-width="1" />
<circle cx="483.8" cy="536.4" r="2.9" fill="#1a1a1a" stroke="none" stroke-width="1" />
<circle cx="501" cy="549.6" r="2.9" fill="#1a1a1a" stroke="none" stroke-width="1" />
<circle cx="521" cy="557.9" r="2.9" fill="#1a1a1a" stroke="none" stroke-width="1" />
<circle cx="542.5" cy="560.7" r="2.9" fill="#1a1a1a" stroke="none" stroke-width="1" />
<circle cx="564" cy="557.9" r="2.9" fill="#1a1a1a" stroke="none" stroke-width="1" />
<circle cx="584" cy="549.6" r="2.9" fill="#1a1a1a" stroke="none" stroke-width="1" />
<circle cx="601.2" cy="536.4" r="2.9" fill="#1a1a1a" stroke="none" stroke-width="1" />
<circle cx="614.4" cy="519.2" r="2.9" fill="#1a1a1a" stroke="none" stroke-width="1" />
<circle cx="622.7" cy="499.2" r="2.9" fill="#1a1a1a" stroke="none" stroke-width="1" />
<circle cx="625.5" cy="477.7" r="2.9" fill="#1a1a1a" stroke="none" stroke-width="1" />
<circle cx="622.7" cy="456.2" r="2.9" fill="#1a1a1a" stroke="none" stroke-width="1" />
<circle cx="614.4" cy="436.2" r="2.9" fill="#1a1a1a" stroke="none" stroke-width="1" />
<circle cx="601.2" cy="419" r="2.9" fill="#1a1a1a" stroke="none" stroke-width="1" />
<circle cx="584" cy="405.8" r="2.9" fill="#1a1a1a" stroke="none" stroke-width="1" />
<circle cx="564" cy="397.5" r="2.9" fill="#1a1a1a" stroke="none" stroke-width="1" />
<rect x="487.5" y="411.9" width="109.9" height="157.7" fill="#a6a6a6" stroke="#333" stroke-width="1.6" />
<rect x="487.5" y="411.9" width="109.9" height="7.7" fill="#bdbdbd" stroke="#333" stroke-width="1.2" />
<rect x="489.5" y="420.5" width="106.1" height="99" fill="none" stroke="#1a1a1a" stroke-width="3.6" />
<line x1="504.8" y1="420" x2="504.8" y2="558" stroke="#222" stroke-width="1.8" />
<line x1="580.6" y1="420" x2="580.6" y2="558" stroke="#222" stroke-width="1.8" />
<line x1="504.8" y1="538.6" x2="580.6" y2="538.6" stroke="#222" stroke-width="1.6" />
<line x1="487.5" y1="558" x2="597.4" y2="558" stroke="#222" stroke-width="2.2" />
<line x1="472" y1="573.2" x2="613" y2="573.2" stroke="#222" stroke-width="3.4" />
<rect x="532.7" y="415.8" width="20.7" height="24.2" fill="#4a4aa0" stroke="#26264f" stroke-width="1.4" />
<rect x="504" y="506" width="12" height="13" fill="#3a3a88" stroke="none" stroke-width="1" />
<rect x="568" y="506" width="13" height="13" fill="#3a3a88" stroke="none" stroke-width="1" />
<circle cx="542.5" cy="476" r="43.3" fill="url(#motg)" stroke="#1c1c38" stroke-width="2.8" />
<path d="M593,423 Q605,440 605.5,458" fill="none" stroke="#111" stroke-width="2.6" />
<polygon points="605.8,464 603,451.9 609.4,452.1" fill="#111" stroke="none" stroke-width="1" />
<path d="M487,430 Q484,470 494,502" fill="none" stroke="#111" stroke-width="2.6" />
<polygon points="497.5,510 490,501.4 495.8,498.7" fill="#111" stroke="none" stroke-width="1" />
<text x="399.3" y="488.3" font-size="51" font-weight="bold" fill="#444444" fill-opacity="0.12" >ukrvent.ua</text>
<text x="398" y="487" font-size="51" font-weight="bold" fill="#ffffff" fill-opacity="0.37" >ukrvent.ua</text>
<line x1="314" y1="477.7" x2="693" y2="477.7" stroke="#1c1c1c" stroke-width="1.1" />
<line x1="402.4" y1="486.9" x2="693" y2="486.9" stroke="#1c1c1c" stroke-width="1.1" />
<line x1="542.6" y1="318" x2="542.6" y2="623" stroke="#1c1c1c" stroke-width="1.1" />
<line x1="322" y1="344.1" x2="541" y2="344.1" stroke="#1c1c1c" stroke-width="1.1" />
<line x1="318" y1="580" x2="545" y2="580" stroke="#1c1c1c" stroke-width="1.1" />
<line x1="402.4" y1="318" x2="402.4" y2="490" stroke="#1c1c1c" stroke-width="1.1" />
<line x1="363" y1="447" x2="363" y2="623" stroke="#1c1c1c" stroke-width="1.1" />
<line x1="660" y1="485" x2="660" y2="623" stroke="#1c1c1c" stroke-width="1.1" />
<line x1="402.4" y1="323" x2="542.6" y2="323" stroke="#1c1c1c" stroke-width="1.6" /><polygon points="402.4,323 419.4,320.3 419.4,325.7" fill="#1c1c1c" stroke="none" stroke-width="1" /><polygon points="542.6,323 525.6,325.7 525.6,320.3" fill="#1c1c1c" stroke="none" stroke-width="1" />
<text x="472.5" y="319" font-size="23.6" text-anchor="middle" fill="#1c1c1c" >555</text>
<line x1="325" y1="344.1" x2="325" y2="477.7" stroke="#1c1c1c" stroke-width="1.6" /><polygon points="325,344.1 327.7,361.1 322.3,361.1" fill="#1c1c1c" stroke="none" stroke-width="1" /><polygon points="325,477.7 322.3,460.7 327.7,460.7" fill="#1c1c1c" stroke="none" stroke-width="1" />
<text x="319" y="411" font-size="23.6" text-anchor="middle" fill="#1c1c1c" transform="rotate(-90 319 411)" >527</text>
<line x1="325" y1="477.7" x2="325" y2="580" stroke="#1c1c1c" stroke-width="1.6" /><polygon points="325,477.7 327.7,494.7 322.3,494.7" fill="#1c1c1c" stroke="none" stroke-width="1" /><polygon points="325,580 322.3,563 327.7,563" fill="#1c1c1c" stroke="none" stroke-width="1" />
<text x="319" y="529" font-size="23.6" text-anchor="middle" fill="#1c1c1c" transform="rotate(-90 319 529)" >407</text>
<line x1="363" y1="619" x2="542.6" y2="619" stroke="#1c1c1c" stroke-width="1.6" /><polygon points="363,619 380,616.3 380,621.7" fill="#1c1c1c" stroke="none" stroke-width="1" /><polygon points="542.6,619 525.6,621.7 525.6,616.3" fill="#1c1c1c" stroke="none" stroke-width="1" />
<text x="456" y="613" font-size="23.6" text-anchor="middle" fill="#1c1c1c" >709</text>
<line x1="542.6" y1="619" x2="660" y2="619" stroke="#1c1c1c" stroke-width="1.6" /><polygon points="542.6,619 559.6,616.3 559.6,621.7" fill="#1c1c1c" stroke="none" stroke-width="1" /><polygon points="660,619 643,621.7 643,616.3" fill="#1c1c1c" stroke="none" stroke-width="1" />
<text x="604.5" y="613" font-size="23.6" text-anchor="middle" fill="#1c1c1c" >466</text>
<line x1="690.5" y1="449" x2="690.5" y2="477.7" stroke="#1c1c1c" stroke-width="2.2" /><polygon points="690.5,477.7 687.8,460.7 693.2,460.7" fill="#1c1c1c" stroke="none" stroke-width="1" />
<line x1="690.5" y1="547" x2="690.5" y2="486.9" stroke="#1c1c1c" stroke-width="2.2" /><polygon points="690.5,486.9 693.2,503.9 687.8,503.9" fill="#1c1c1c" stroke="none" stroke-width="1" />
<text x="685.5" y="527" font-size="23.6" text-anchor="middle" fill="#1c1c1c" transform="rotate(-90 685.5 527)" >39</text>
<text x="605" y="360.2" font-size="23.6" fill="#1c1c1c" >225°</text>
<line x1="609" y1="364.8" x2="659.5" y2="364.8" stroke="#1c1c1c" stroke-width="1.1" />
<line x1="609" y1="364.8" x2="459" y2="560.6" stroke="#1c1c1c" stroke-width="1.3" />
<line x1="402" y1="487" x2="416" y2="473" stroke="#1c1c1c" stroke-width="1.1" />
<line x1="526.6" y1="337.7" x2="526.6" y2="348.7" stroke="#1c1c1c" stroke-width="1.1" />
<line x1="521.8" y1="340.4" x2="531.4" y2="345.9" stroke="#1c1c1c" stroke-width="1.1" />
<line x1="531.4" y1="340.4" x2="521.8" y2="345.9" stroke="#1c1c1c" stroke-width="1.1" />
<line x1="557" y1="575.2" x2="557" y2="586.2" stroke="#1c1c1c" stroke-width="1.1" />
<line x1="552.2" y1="578" x2="561.8" y2="583.5" stroke="#1c1c1c" stroke-width="1.1" />
<line x1="561.8" y1="578" x2="552.2" y2="583.5" stroke="#1c1c1c" stroke-width="1.1" />
<text x="377.6" y="530.5" font-size="31" font-weight="bold" fill="#1a1a1a" >Б</text>
<line x1="382.8" y1="561.9" x2="416.4" y2="529.5" stroke="#1c1c1c" stroke-width="1.8" /><polygon points="416.4,529.5 406,543.2 402.3,539.4" fill="#1c1c1c" stroke="none" stroke-width="1" />
<polygon points="404,541.5 395.7,553.1 392.1,549.4" fill="#1c1c1c" stroke="none" stroke-width="1" />
<line x1="350.7" y1="596.8" x2="322" y2="626.5" stroke="#1c1c1c" stroke-width="1.8" /><polygon points="322,626.5 331.9,612.4 335.8,616.2" fill="#1c1c1c" stroke="none" stroke-width="1" />
<text x="274.4" y="653.3" font-size="27.4" fill="#1c1c1c" >Вихід повітря</text>
</g>
<g id="draw2">
<defs><linearGradient id="d2top" x1="0" y1="0" x2="0" y2="1"><stop offset="0" stop-color="#d0d0d0"/><stop offset="0.14" stop-color="#fafafa"/><stop offset="0.5" stop-color="#ececec"/><stop offset="1" stop-color="#a4a4a4"/></linearGradient><linearGradient id="d2low" x1="0" y1="0" x2="0" y2="1"><stop offset="0" stop-color="#a6a6a6"/><stop offset="1" stop-color="#7c7c7c"/></linearGradient><linearGradient id="d2cyl" x1="0" y1="0" x2="0" y2="1"><stop offset="0" stop-color="#8a8a8a"/><stop offset="0.12" stop-color="#bcbcbc"/><stop offset="0.36" stop-color="#f2f2f2"/><stop offset="0.62" stop-color="#b4b4b4"/><stop offset="1" stop-color="#6c6c6c"/></linearGradient><linearGradient id="d2brg" x1="0" y1="0" x2="0" y2="1"><stop offset="0" stop-color="#dcdcdc"/><stop offset="0.3" stop-color="#fbfbfb"/><stop offset="0.7" stop-color="#c4c4c4"/><stop offset="1" stop-color="#8c8c8c"/></linearGradient><linearGradient id="d2yel" x1="0" y1="0" x2="1" y2="0"><stop offset="0" stop-color="#aaa94e"/><stop offset="0.5" stop-color="#cfce6e"/><stop offset="1" stop-color="#aaa94e"/></linearGradient><linearGradient id="d2mot" x1="0" y1="0" x2="0" y2="1"><stop offset="0" stop-color="#14143a"/><stop offset="0.35" stop-color="#282868"/><stop offset="0.7" stop-color="#1b1b4e"/><stop offset="1" stop-color="#14143a"/></linearGradient><linearGradient id="d2fan" x1="0" y1="0" x2="1" y2="0"><stop offset="0" stop-color="#3a3a8e"/><stop offset="0.4" stop-color="#5a5ab4"/><stop offset="1" stop-color="#34347e"/></linearGradient></defs>
<rect x="1055.7" y="440" width="15.7" height="117" fill="#a6a6a6" stroke="none" stroke-width="1" />
<rect x="1055.7" y="557" width="244.8" height="14.2" fill="#b6b6b6" stroke="#3a3a3a" stroke-width="1.4" />
<line x1="1055.7" y1="571.6" x2="1300.5" y2="571.6" stroke="#222" stroke-width="2.4" />
<rect x="1071.4" y="491.4" width="75.7" height="21.3" fill="#a6a6a6" stroke="#3a3a3a" stroke-width="1.2" />
<rect x="1130.5" y="512.7" width="16.6" height="44.3" fill="#a6a6a6" stroke="#3a3a3a" stroke-width="1.2" />
<rect x="1138.8" y="509.9" width="146" height="20.3" fill="#b6b6b6" stroke="#3a3a3a" stroke-width="1.2" />
<rect x="1268.2" y="530.2" width="16.6" height="26.8" fill="#b6b6b6" stroke="#3a3a3a" stroke-width="1.2" />
<rect x="1147.1" y="509.9" width="16.7" height="47.1" fill="#a6a6a6" stroke="#3a3a3a" stroke-width="1.2" />
<rect x="1138.8" y="511.8" width="17.6" height="15.7" fill="#b6b6b6" stroke="#3a3a3a" stroke-width="1.2" />
<rect x="1138.8" y="539.5" width="17.6" height="16.6" fill="#b6b6b6" stroke="#3a3a3a" stroke-width="1.2" />
<path d="M1198,568 V545 Q1198,535 1208,535 H1224 Q1234,535 1234,545 V568 Z" fill="#b6b6b6" stroke="#3a3a3a" stroke-width="1.4" />
<ellipse cx="1215.7" cy="550.6" rx="8" ry="6" fill="#fff" stroke="#3a3a3a" stroke-width="1.2" />
<path d="M1060.3,454.5 V418.5 H1082 Q1093.6,418.5 1093.6,431 V443 Q1093.6,454.5 1082,454.5 Z" fill="#b6b6b6" stroke="#555" stroke-width="1.4" />
<ellipse cx="1077.9" cy="436.9" rx="6" ry="8.3" fill="#fff" stroke="#555" stroke-width="1.2" />
<rect x="1064.4" y="459.1" width="84.6" height="31.4" fill="url(#d2brg)" stroke="#888" stroke-width="1" />
<line x1="1098" y1="460" x2="1098" y2="490" stroke="#8a8a8a" stroke-width="1.2" />
<line x1="1130" y1="460" x2="1130" y2="490" stroke="#8a8a8a" stroke-width="1.2" />
<rect x="1085" y="478" width="10" height="11" fill="#9a9a9a" stroke="#555" stroke-width="1" />
<rect x="1131" y="478" width="10" height="11" fill="#9a9a9a" stroke="#555" stroke-width="1" />
<rect x="1149" y="468" width="11" height="14" fill="#999" stroke="#555" stroke-width="1" />
<rect x="1161" y="452.6" width="38.8" height="55.4" fill="url(#d2yel)" stroke="#8c8b3a" stroke-width="1" />
<rect x="1165" y="505" width="5" height="4.5" fill="#222" stroke="none" stroke-width="1" />
<rect x="1191" y="505" width="5" height="4.5" fill="#222" stroke="none" stroke-width="1" />
<rect x="1209" y="424" width="21.3" height="21" fill="#4444a0" stroke="#2a2a6a" stroke-width="1" />
<rect x="1224.7" y="495" width="53.6" height="14.3" fill="#4646a6" stroke="#2a2a6a" stroke-width="1" />
<path d="M1206.3,450 Q1206.3,442.5 1214,442.5 H1231.2 V508 H1214 Q1206.3,508 1206.3,500 Z" fill="url(#d2fan)" stroke="#2a2a6a" stroke-width="1" />
<rect x="1231.2" y="442.5" width="80.4" height="56.5" fill="url(#d2mot)" stroke="#14143a" stroke-width="1" />
<line x1="1232" y1="448" x2="1311" y2="448" stroke="#34348a" stroke-width="1.6" stroke-opacity="0.7"/>
<line x1="1232" y1="454" x2="1311" y2="454" stroke="#34348a" stroke-width="1.6" stroke-opacity="0.7"/>
<line x1="1232" y1="460" x2="1311" y2="460" stroke="#34348a" stroke-width="1.6" stroke-opacity="0.7"/>
<line x1="1232" y1="466" x2="1311" y2="466" stroke="#34348a" stroke-width="1.6" stroke-opacity="0.7"/>
<line x1="1232" y1="472" x2="1311" y2="472" stroke="#34348a" stroke-width="1.6" stroke-opacity="0.7"/>
<line x1="1232" y1="478" x2="1311" y2="478" stroke="#34348a" stroke-width="1.6" stroke-opacity="0.7"/>
<line x1="1232" y1="484" x2="1311" y2="484" stroke="#34348a" stroke-width="1.6" stroke-opacity="0.7"/>
<line x1="1232" y1="490" x2="1311" y2="490" stroke="#34348a" stroke-width="1.6" stroke-opacity="0.7"/>
<path d="M1311.6,443.4 H1319 Q1323.6,443.4 1323.6,449 V502 Q1323.6,508 1319,508 H1311.6 Z" fill="#4a4aaa" stroke="#2a2a6a" stroke-width="1" />
<rect x="982.3" y="339.4" width="11.7" height="242.2" fill="#8c8c8c" stroke="#1a1a1a" stroke-width="2.2" />
<rect x="994" y="341.8" width="58" height="39.9" fill="url(#d2top)" stroke="none" stroke-width="1" />
<rect x="994" y="381.7" width="58" height="62.3" fill="#a6a6a6" stroke="none" stroke-width="1" />
<rect x="994" y="524" width="58" height="54" fill="url(#d2low)" stroke="none" stroke-width="1" />
<rect x="994" y="341.8" width="58" height="236.2" fill="none" stroke="#1a1a1a" stroke-width="2" />
<line x1="994" y1="381.7" x2="1052" y2="381.7" stroke="#1a1a1a" stroke-width="2" />
<line x1="994" y1="403.8" x2="1052" y2="403.8" stroke="#1a1a1a" stroke-width="2" />
<line x1="994" y1="547.5" x2="1052" y2="547.5" stroke="#1a1a1a" stroke-width="2" />
<rect x="1051" y="340.6" width="3" height="239.8" fill="#1a1a1a" stroke="none" stroke-width="1" />
<rect x="1054" y="385" width="5" height="6" fill="#1a1a1a" stroke="none" stroke-width="1" />
<rect x="1054" y="396" width="5" height="6" fill="#1a1a1a" stroke="none" stroke-width="1" />
<rect x="1054" y="411" width="5" height="6" fill="#1a1a1a" stroke="none" stroke-width="1" />
<rect x="1054" y="430" width="5" height="6" fill="#1a1a1a" stroke="none" stroke-width="1" />
<rect x="1054" y="530" width="5" height="6" fill="#1a1a1a" stroke="none" stroke-width="1" />
<rect x="982.3" y="444.6" width="81.7" height="79.4" fill="#9a9a9a" stroke="#1a1a1a" stroke-width="2.2" />
<rect x="994" y="452.9" width="58.8" height="65.2" fill="#2a2424" stroke="#1a1a1a" stroke-width="1.6" />
<rect x="994.8" y="453.7" width="12.2" height="33.3" fill="#c6c6c6" stroke="none" stroke-width="1" />
<rect x="1010" y="456" width="40" height="31" fill="#3a2626" stroke="none" stroke-width="1" />
<line x1="1018" y1="462" x2="1046" y2="462" stroke="#a04848" stroke-width="2.4" />
<line x1="1018" y1="469" x2="1046" y2="469" stroke="#a04848" stroke-width="2.4" />
<line x1="1018" y1="476" x2="1046" y2="476" stroke="#a04848" stroke-width="2.4" />
<line x1="1018" y1="483" x2="1046" y2="483" stroke="#a04848" stroke-width="2.4" />
<rect x="994.8" y="487" width="57.2" height="2.5" fill="#cfcfcf" stroke="none" stroke-width="1" />
<rect x="994.8" y="489.5" width="57.2" height="27.4" fill="#a54e4e" stroke="none" stroke-width="1" />
<circle cx="988" cy="449" r="2.1" fill="#111" stroke="none" stroke-width="1" />
<circle cx="988" cy="521" r="2.1" fill="#111" stroke="none" stroke-width="1" />
<circle cx="1011" cy="449" r="2.1" fill="#111" stroke="none" stroke-width="1" />
<circle cx="1011" cy="521" r="2.1" fill="#111" stroke="none" stroke-width="1" />
<circle cx="1035" cy="449" r="2.1" fill="#111" stroke="none" stroke-width="1" />
<circle cx="1035" cy="521" r="2.1" fill="#111" stroke="none" stroke-width="1" />
<circle cx="1058.5" cy="449" r="2.1" fill="#111" stroke="none" stroke-width="1" />
<circle cx="1058.5" cy="521" r="2.1" fill="#111" stroke="none" stroke-width="1" />
<circle cx="988" cy="464" r="2.1" fill="#111" stroke="none" stroke-width="1" />
<circle cx="1058.5" cy="464" r="2.1" fill="#111" stroke="none" stroke-width="1" />
<circle cx="988" cy="479" r="2.1" fill="#111" stroke="none" stroke-width="1" />
<circle cx="1058.5" cy="479" r="2.1" fill="#111" stroke="none" stroke-width="1" />
<circle cx="988" cy="493" r="2.1" fill="#111" stroke="none" stroke-width="1" />
<circle cx="1058.5" cy="493" r="2.1" fill="#111" stroke="none" stroke-width="1" />
<circle cx="988" cy="508" r="2.1" fill="#111" stroke="none" stroke-width="1" />
<circle cx="1058.5" cy="508" r="2.1" fill="#111" stroke="none" stroke-width="1" />
<rect x="922.9" y="420.5" width="57.1" height="110.5" fill="url(#d2cyl)" stroke="#444" stroke-width="1" />
<rect x="919.2" y="411.1" width="3.7" height="129.3" fill="#1a1a1a" stroke="none" stroke-width="1" />
<rect x="922.9" y="423.5" width="10.6" height="2" fill="#1a1a1a" stroke="none" stroke-width="1" />
<rect x="922.9" y="495.5" width="10.6" height="2.3" fill="#1a1a1a" stroke="none" stroke-width="1" />
<rect x="925.3" y="471.7" width="44.1" height="5.8" fill="#2a2a2a" stroke="none" stroke-width="1" />
<line x1="926" y1="474.6" x2="968" y2="474.6" stroke="#bbb" stroke-width="1.2" />
<rect x="961.7" y="383.5" width="4.1" height="185.2" fill="#151515" stroke="none" stroke-width="1" />
<rect x="975.2" y="412.3" width="4.8" height="124.6" fill="#151515" stroke="none" stroke-width="1" />
<rect x="969" y="415" width="14" height="30" fill="#151515" stroke="none" stroke-width="1" />
<rect x="969" y="503" width="14" height="35" fill="#151515" stroke="none" stroke-width="1" />
<polygon points="963.7,392.5 969.5,402.5 969.5,408.5 963.7,418.5 958,408.5 958,402.5" fill="#151515" stroke="none" stroke-width="1" />
<polygon points="963.7,433.5 969.5,443.5 969.5,449.5 963.7,459.5 958,449.5 958,443.5" fill="#151515" stroke="none" stroke-width="1" />
<polygon points="963.7,532 969.5,542 969.5,548 963.7,558 958,548 958,542" fill="#151515" stroke="none" stroke-width="1" />
<rect x="943.5" y="404.5" width="31.7" height="3.5" fill="#151515" stroke="none" stroke-width="1" />
<rect x="943.5" y="543.5" width="31.7" height="3.5" fill="#151515" stroke="none" stroke-width="1" />
<rect x="954" y="445" width="8" height="4.5" fill="#151515" stroke="none" stroke-width="1" />
<rect x="956" y="482.5" width="10" height="3" fill="#151515" stroke="none" stroke-width="1" />
<rect x="943.5" y="401.5" width="8" height="8" fill="#151515" stroke="none" stroke-width="1" />
<rect x="945" y="409.5" width="5" height="11.5" fill="#151515" stroke="none" stroke-width="1" />
<rect x="943.5" y="421" width="9.5" height="19.5" fill="#151515" stroke="none" stroke-width="1" />
<rect x="948" y="425.5" width="27" height="6" fill="#151515" stroke="none" stroke-width="1" />
<rect x="943.5" y="540.5" width="8" height="8.5" fill="#151515" stroke="none" stroke-width="1" />
<rect x="945" y="529.5" width="5" height="11" fill="#151515" stroke="none" stroke-width="1" />
<rect x="943.5" y="509" width="9.5" height="20.5" fill="#151515" stroke="none" stroke-width="1" />
<rect x="948" y="518.5" width="27" height="6" fill="#151515" stroke="none" stroke-width="1" />
<rect x="951" y="501" width="4" height="11" fill="#151515" stroke="none" stroke-width="1" />
<rect x="946" y="416.5" width="5.5" height="3" fill="#999" stroke="none" stroke-width="1" />
<rect x="946" y="532" width="5.5" height="3" fill="#bbb" stroke="none" stroke-width="1" />
<ellipse cx="948.5" cy="436.5" rx="4.2" ry="3.6" fill="#777" stroke="#151515" stroke-width="1.6" />
<ellipse cx="948.5" cy="514" rx="4.2" ry="3.6" fill="#777" stroke="#151515" stroke-width="1.6" />
<path d="M981,420 Q978,436 981,442" fill="none" stroke="#ccc" stroke-width="2" />
<rect x="981.5" y="527" width="9.5" height="10" fill="#e4e4e4" stroke="none" stroke-width="1" />
<text x="975.3" y="489.3" font-size="50" font-weight="bold" fill="#444444" fill-opacity="0.1" >ukrvent.ua</text>
<text x="974" y="488" font-size="50" font-weight="bold" fill="#ffffff" fill-opacity="0.36" >ukrvent.ua</text>
<line x1="921.5" y1="286.7" x2="921.5" y2="691" stroke="#1c1c1c" stroke-width="1.1" />
<line x1="977.4" y1="309.6" x2="977.4" y2="432" stroke="#1c1c1c" stroke-width="1.1" />
<line x1="1023.4" y1="286.7" x2="1023.4" y2="613.4" stroke="#1c1c1c" stroke-width="1.1" />
<line x1="927" y1="475.4" x2="1399" y2="475.4" stroke="#1c1c1c" stroke-width="1.1" />
<line x1="1317" y1="570.8" x2="1399" y2="570.8" stroke="#1c1c1c" stroke-width="1.1" />
<line x1="886" y1="570.8" x2="929" y2="570.8" stroke="#1c1c1c" stroke-width="1.4" />
<line x1="1300.6" y1="571" x2="1300.6" y2="658.7" stroke="#1c1c1c" stroke-width="1.1" />
<line x1="1324.3" y1="476" x2="1324.3" y2="693" stroke="#1c1c1c" stroke-width="1.1" />
<line x1="921.5" y1="293.6" x2="1023.4" y2="293.6" stroke="#1c1c1c" stroke-width="1.6" /><polygon points="921.5,293.6 938.5,290.9 938.5,296.3" fill="#1c1c1c" stroke="none" stroke-width="1" /><polygon points="1023.4,293.6 1006.4,296.3 1006.4,290.9" fill="#1c1c1c" stroke="none" stroke-width="1" />
<text x="972" y="289.5" font-size="23.6" text-anchor="middle" fill="#1c1c1c" >399</text>
<line x1="951.4" y1="313.9" x2="977.4" y2="313.9" stroke="#1c1c1c" stroke-width="1.6" /><line x1="1023.4" y1="313.9" x2="1049.4" y2="313.9" stroke="#1c1c1c" stroke-width="1.6" /><polygon points="977.4,313.9 960.4,316.6 960.4,311.2" fill="#1c1c1c" stroke="none" stroke-width="1" /><polygon points="1023.4,313.9 1040.4,311.2 1040.4,316.6" fill="#1c1c1c" stroke="none" stroke-width="1" />
<line x1="1023.4" y1="313.9" x2="1094" y2="313.9" stroke="#1c1c1c" stroke-width="1.6" />
<text x="1070" y="309.8" font-size="23.6" text-anchor="middle" fill="#1c1c1c" >179</text>
<line x1="1392.4" y1="475.4" x2="1392.4" y2="570.8" stroke="#1c1c1c" stroke-width="1.8" /><polygon points="1392.4,475.4 1395.1,492.4 1389.7,492.4" fill="#1c1c1c" stroke="none" stroke-width="1" /><polygon points="1392.4,570.8 1389.7,553.8 1395.1,553.8" fill="#1c1c1c" stroke="none" stroke-width="1" />
<text x="1389.5" y="523" font-size="23.6" text-anchor="middle" fill="#1c1c1c" transform="rotate(-90 1389.5 523)" >380</text>
<line x1="921.5" y1="653" x2="1300.6" y2="653" stroke="#1c1c1c" stroke-width="1.6" /><polygon points="921.5,653 938.5,650.3 938.5,655.7" fill="#1c1c1c" stroke="none" stroke-width="1" /><polygon points="1300.6,653 1283.6,655.7 1283.6,650.3" fill="#1c1c1c" stroke="none" stroke-width="1" />
<text x="1121" y="648" font-size="24.4" text-anchor="middle" fill="#1c1c1c" >1478</text>
<line x1="921.5" y1="688.9" x2="1324.3" y2="688.9" stroke="#1c1c1c" stroke-width="1.6" /><polygon points="921.5,688.9 938.5,686.2 938.5,691.6" fill="#1c1c1c" stroke="none" stroke-width="1" /><polygon points="1324.3,688.9 1307.3,691.6 1307.3,686.2" fill="#1c1c1c" stroke="none" stroke-width="1" />
<text x="1128.6" y="682.8" font-size="24.4" text-anchor="middle" fill="#1c1c1c" >max1571*</text>
<text x="1240.7" y="344" font-size="22.1" font-weight="bold" text-anchor="middle" fill="#c4423e" >Електродвигун</text>
<text x="1240.7" y="368.6" font-size="22.1" font-weight="bold" text-anchor="middle" fill="#c4423e" >у комплект постачання</text>
<text x="1240.7" y="392.8" font-size="22.1" font-weight="bold" text-anchor="middle" fill="#c4423e" >не входить</text>
<line x1="1224.3" y1="402.2" x2="1291" y2="451.8" stroke="#b83030" stroke-width="1.3" />
<text x="854.5" y="453.3" font-size="31" font-weight="bold" fill="#1a1a1a" >В</text>
<line x1="864.4" y1="459" x2="911.8" y2="459" stroke="#1c1c1c" stroke-width="1.6" /><polygon points="911.8,459 894.8,461.7 894.8,456.3" fill="#1c1c1c" stroke="none" stroke-width="1" />
<line x1="873" y1="479.8" x2="911.8" y2="479.8" stroke="#1c1c1c" stroke-width="1.6" /><polygon points="911.8,479.8 894.8,482.5 894.8,477.1" fill="#1c1c1c" stroke="none" stroke-width="1" />
<text x="739.4" y="505.7" font-size="27.5" fill="#1c1c1c" >Вхід повітря</text>
<text x="878.6" y="535.9" font-size="31" font-weight="bold" fill="#1a1a1a" >А</text>
<line x1="905.3" y1="518.6" x2="905.3" y2="568.2" stroke="#1c1c1c" stroke-width="1.6" /><polygon points="905.3,568.2 902.3,546.2 908.3,546.2" fill="#1c1c1c" stroke="none" stroke-width="1" />
<text x="1350" y="535.9" font-size="31" font-weight="bold" fill="#1a1a1a" >А</text>
<line x1="1340.7" y1="518.6" x2="1340.7" y2="568.2" stroke="#1c1c1c" stroke-width="1.6" /><polygon points="1340.7,568.2 1337.7,546.2 1343.7,546.2" fill="#1c1c1c" stroke="none" stroke-width="1" />
</g>
<g id="draw3">
<text x="454" y="771.6" font-size="31" font-weight="bold" text-anchor="middle" fill="#1a1a1a" >А-А</text>
<defs><linearGradient id="d3red" x1="0" y1="0" x2="0" y2="1"><stop offset="0" stop-color="#924a4a"/><stop offset="0.5" stop-color="#884343"/><stop offset="1" stop-color="#793939"/></linearGradient></defs>
<rect x="221.6" y="834.7" width="64.6" height="169.3" fill="url(#d3red)" stroke="#3a2a2a" stroke-width="1.4" />
<rect x="221.6" y="834.7" width="2.2" height="169.3" fill="#5a3a3a" stroke="none" stroke-width="1" />
<rect x="281.6" y="834.7" width="4.6" height="169.3" fill="#7a5a5a" stroke="#3a2a2a" stroke-width="1" />
<line x1="221.6" y1="924" x2="281.6" y2="924" stroke="#4a2a2a" stroke-width="1.2" />
<rect x="286.2" y="858.7" width="257.1" height="16.6" fill="#a8a8a8" stroke="#4a4a4a" stroke-width="1.2" />
<rect x="286.2" y="990.2" width="257.1" height="15.3" fill="#a8a8a8" stroke="#4a4a4a" stroke-width="1.2" />
<rect x="524.8" y="875.3" width="18.5" height="114.9" fill="#a8a8a8" stroke="#4a4a4a" stroke-width="1.2" />
<rect x="381.7" y="875.3" width="3" height="114.9" fill="#b8b8b8" stroke="#4a4a4a" stroke-width="1" />
<rect x="286.2" y="875.3" width="2.8" height="114.9" fill="#b8b8b8" stroke="#4a4a4a" stroke-width="0.8" />
<line x1="289" y1="875.8" x2="524.8" y2="875.8" stroke="#333" stroke-width="1.6" />
<line x1="289" y1="989.7" x2="524.8" y2="989.7" stroke="#333" stroke-width="1.6" />
<circle cx="296.4" cy="867" r="2.6" fill="#ddd" stroke="#333" stroke-width="1" />
<line x1="291.9" y1="867" x2="300.9" y2="867" stroke="#222" stroke-width="0.9" />
<line x1="296.4" y1="862.5" x2="296.4" y2="871.5" stroke="#222" stroke-width="0.9" />
<circle cx="296.4" cy="997" r="2.6" fill="#ddd" stroke="#333" stroke-width="1" />
<line x1="291.9" y1="997" x2="300.9" y2="997" stroke="#222" stroke-width="0.9" />
<line x1="296.4" y1="992.5" x2="296.4" y2="1001.5" stroke="#222" stroke-width="0.9" />
<circle cx="414.6" cy="867" r="2.6" fill="#ddd" stroke="#333" stroke-width="1" />
<line x1="410.1" y1="867" x2="419.1" y2="867" stroke="#222" stroke-width="0.9" />
<line x1="414.6" y1="862.5" x2="414.6" y2="871.5" stroke="#222" stroke-width="0.9" />
<circle cx="414.6" cy="997" r="2.6" fill="#ddd" stroke="#333" stroke-width="1" />
<line x1="410.1" y1="997" x2="419.1" y2="997" stroke="#222" stroke-width="0.9" />
<line x1="414.6" y1="992.5" x2="414.6" y2="1001.5" stroke="#222" stroke-width="0.9" />
<circle cx="533.4" cy="867" r="2.6" fill="#ddd" stroke="#333" stroke-width="1" />
<line x1="528.9" y1="867" x2="537.9" y2="867" stroke="#222" stroke-width="0.9" />
<line x1="533.4" y1="862.5" x2="533.4" y2="871.5" stroke="#222" stroke-width="0.9" />
<circle cx="533.4" cy="997" r="2.6" fill="#ddd" stroke="#333" stroke-width="1" />
<line x1="528.9" y1="997" x2="537.9" y2="997" stroke="#222" stroke-width="0.9" />
<line x1="533.4" y1="992.5" x2="533.4" y2="1001.5" stroke="#222" stroke-width="0.9" />
<circle cx="534.5" cy="932.3" r="2" fill="#333" stroke="none" stroke-width="1" />
<text x="0" y="0" font-size="53.7" font-weight="bold" fill="#555" fill-opacity="0.10" transform="translate(239,979) rotate(-16.5)">ukrvent.ua</text>
<text x="0" y="0" font-size="53.7" font-weight="bold" fill="#fff" fill-opacity="0.40" transform="translate(238,978) rotate(-16.5)">ukrvent.ua</text>
<text x="218.5" y="805.4" font-size="24.9" fill="#1c1c1c" >Вісь корпусу</text>
<line x1="217" y1="813" x2="361.7" y2="813" stroke="#1c1c1c" stroke-width="1.1" />
<line x1="217" y1="813" x2="253" y2="862.4" stroke="#1c1c1c" stroke-width="1.1" />
<line x1="253.9" y1="828.5" x2="253.9" y2="1041" stroke="#1c1c1c" stroke-width="1.1" />
<text x="349.3" y="839.3" font-size="24" fill="#1c1c1c" >6 отв. ø20</text>
<line x1="347.8" y1="844.5" x2="469.4" y2="844.5" stroke="#1c1c1c" stroke-width="1.1" />
<line x1="347.8" y1="844.5" x2="437" y2="877.2" stroke="#1c1c1c" stroke-width="2.2" /><polygon points="437,877.2 419.1,873.8 421.1,868.2" fill="#1c1c1c" stroke="none" stroke-width="1" />
<text x="401" y="925.5" font-size="24.8" fill="#1c1c1c" >Вісь валу</text>
<line x1="281.6" y1="932.3" x2="574" y2="932.3" stroke="#1c1c1c" stroke-width="1.1" stroke-dasharray="128 4 8 4"/>
<line x1="543.3" y1="857.8" x2="643.4" y2="857.8" stroke="#1c1c1c" stroke-width="1.1" />
<line x1="534" y1="867" x2="611" y2="867" stroke="#1c1c1c" stroke-width="1.1" />
<line x1="534" y1="997" x2="611" y2="997" stroke="#1c1c1c" stroke-width="1.1" />
<line x1="543.3" y1="1005.5" x2="643.4" y2="1005.5" stroke="#1c1c1c" stroke-width="1.1" />
<line x1="573.5" y1="867" x2="573.5" y2="932.3" stroke="#1c1c1c" stroke-width="2" /><polygon points="573.5,867 576.2,884 570.8,884" fill="#1c1c1c" stroke="none" stroke-width="1" /><polygon points="573.5,932.3 570.8,915.3 576.2,915.3" fill="#1c1c1c" stroke="none" stroke-width="1" />
<text x="568.5" y="899.3" font-size="23.6" text-anchor="middle" fill="#1c1c1c" transform="rotate(-90 568.5 899.3)" >243</text>
<line x1="606.4" y1="867" x2="606.4" y2="997" stroke="#1c1c1c" stroke-width="2" /><polygon points="606.4,867 609.1,884 603.7,884" fill="#1c1c1c" stroke="none" stroke-width="1" /><polygon points="606.4,997 603.7,980 609.1,980" fill="#1c1c1c" stroke="none" stroke-width="1" />
<text x="601.5" y="930" font-size="23.6" text-anchor="middle" fill="#1c1c1c" transform="rotate(-90 601.5 930)" >485</text>
<line x1="638.1" y1="857.8" x2="638.1" y2="1005.5" stroke="#1c1c1c" stroke-width="2" /><polygon points="638.1,857.8 640.8,874.8 635.4,874.8" fill="#1c1c1c" stroke="none" stroke-width="1" /><polygon points="638.1,1005.5 635.4,988.5 640.8,988.5" fill="#1c1c1c" stroke="none" stroke-width="1" />
<text x="633" y="934.7" font-size="23.6" text-anchor="middle" fill="#1c1c1c" transform="rotate(-90 633 934.7)" >549</text>
<line x1="222.2" y1="1004" x2="222.2" y2="1070" stroke="#1c1c1c" stroke-width="1.1" />
<line x1="543.3" y1="1005.5" x2="543.3" y2="1070" stroke="#1c1c1c" stroke-width="1.1" />
<line x1="296.4" y1="997" x2="296.4" y2="1041" stroke="#1c1c1c" stroke-width="1.1" />
<line x1="414.6" y1="997" x2="414.6" y2="1041" stroke="#1c1c1c" stroke-width="1.1" />
<line x1="533.4" y1="997" x2="533.4" y2="1041" stroke="#1c1c1c" stroke-width="1.1" />
<line x1="253.9" y1="1035.7" x2="296.4" y2="1035.7" stroke="#1c1c1c" stroke-width="2" /><polygon points="253.9,1035.7 270.9,1033 270.9,1038.4" fill="#1c1c1c" stroke="none" stroke-width="1" /><polygon points="296.4,1035.7 279.4,1038.4 279.4,1033" fill="#1c1c1c" stroke="none" stroke-width="1" />
<line x1="296.4" y1="1035.7" x2="414.6" y2="1035.7" stroke="#1c1c1c" stroke-width="2" /><polygon points="296.4,1035.7 313.4,1033 313.4,1038.4" fill="#1c1c1c" stroke="none" stroke-width="1" /><polygon points="414.6,1035.7 397.6,1038.4 397.6,1033" fill="#1c1c1c" stroke="none" stroke-width="1" />
<line x1="414.6" y1="1035.7" x2="533.4" y2="1035.7" stroke="#1c1c1c" stroke-width="2" /><polygon points="414.6,1035.7 431.6,1033 431.6,1038.4" fill="#1c1c1c" stroke="none" stroke-width="1" /><polygon points="533.4,1035.7 516.4,1038.4 516.4,1033" fill="#1c1c1c" stroke="none" stroke-width="1" />
<text x="274.5" y="1030.2" font-size="23.6" text-anchor="middle" fill="#1c1c1c" >162</text>
<text x="354.6" y="1030.2" font-size="23.6" text-anchor="middle" fill="#1c1c1c" >440</text>
<text x="474" y="1030.2" font-size="23.6" text-anchor="middle" fill="#1c1c1c" >440</text>
<line x1="222.2" y1="1065.6" x2="543.3" y2="1065.6" stroke="#1c1c1c" stroke-width="2" /><polygon points="222.2,1065.6 239.2,1062.9 239.2,1068.3" fill="#1c1c1c" stroke="none" stroke-width="1" /><polygon points="543.3,1065.6 526.3,1068.3 526.3,1062.9" fill="#1c1c1c" stroke="none" stroke-width="1" />
<text x="374.6" y="1061" font-size="23.6" text-anchor="middle" fill="#1c1c1c" >1196</text>
</g>
<g id="draw4">
<text x="855.7" y="771" font-size="31" font-weight="bold" text-anchor="middle" fill="#1a1a1a" >В</text>
<defs><radialGradient id="d4ring" cx="0.5" cy="0.5" r="0.5"><stop offset="0.84" stop-color="#5a5a5a"/><stop offset="0.92" stop-color="#767676"/><stop offset="1" stop-color="#5e5e5e"/></radialGradient><clipPath id="d4clip"><circle cx="857.8" cy="930.2" r="85"/></clipPath></defs>
<circle cx="857.8" cy="930.2" r="102" fill="url(#d4ring)" stroke="#4a4a4a" stroke-width="1.2" />
<circle cx="857.8" cy="930.2" r="87.5" fill="#3a3030" stroke="none" stroke-width="1" />
<circle cx="857.8" cy="930.2" r="85" fill="#583636" stroke="#2c2424" stroke-width="1.5" />
<g clip-path="url(#d4clip)"><polygon points="857.8,920.2 836,842.9 879.6,842.9" fill="#8c5c5c" stroke="#5a3434" stroke-width="1" /><polygon points="859.7,922.4 879.6,842.9 891.5,846.8" fill="#3e2a2a" stroke="none" stroke-width="1" /><polygon points="864.9,923.1 904.2,853.1 934.9,883.8" fill="#825656" stroke="#5a3434" stroke-width="1" /><polygon points="864.7,926.1 934.9,883.8 940.6,895" fill="#3e2a2a" stroke="none" stroke-width="1" /><polygon points="867.8,930.2 945.1,908.4 945.1,952" fill="#8c5c5c" stroke="#5a3434" stroke-width="1" /><polygon points="865.6,932.1 945.1,952 941.2,963.9" fill="#3e2a2a" stroke="none" stroke-width="1" /><polygon points="864.9,937.3 934.9,976.6 904.2,1007.3" fill="#825656" stroke="#5a3434" stroke-width="1" /><polygon points="861.9,937.1 904.2,1007.3 893,1013" fill="#3e2a2a" stroke="none" stroke-width="1" /><polygon points="857.8,940.2 879.6,1017.5 836,1017.5" fill="#8c5c5c" stroke="#5a3434" stroke-width="1" /><polygon points="855.9,938 836,1017.5 824.1,1013.6" fill="#3e2a2a" stroke="none" stroke-width="1" /><polygon points="850.7,937.3 811.4,1007.3 780.7,976.6" fill="#825656" stroke="#5a3434" stroke-width="1" /><polygon points="850.9,934.3 780.7,976.6 775,965.4" fill="#3e2a2a" stroke="none" stroke-width="1" /><polygon points="847.8,930.2 770.5,952 770.5,908.4" fill="#8c5c5c" stroke="#5a3434" stroke-width="1" /><polygon points="850,928.3 770.5,908.4 774.4,896.5" fill="#3e2a2a" stroke="none" stroke-width="1" /><polygon points="850.7,923.1 780.7,883.8 811.4,853.1" fill="#825656" stroke="#5a3434" stroke-width="1" /><polygon points="853.7,923.3 811.4,853.1 822.6,847.4" fill="#3e2a2a" stroke="none" stroke-width="1" /></g>
<circle cx="857.8" cy="930.2" r="7" fill="#6a3a3a" stroke="#3a2424" stroke-width="1" />
<circle cx="953.3" cy="930.2" r="2.2" fill="#3a3a3a" stroke="#222" stroke-width="0.8" />
<circle cx="940.5" cy="978" r="2.2" fill="#3a3a3a" stroke="#222" stroke-width="0.8" />
<circle cx="905.5" cy="1012.9" r="2.2" fill="#3a3a3a" stroke="#222" stroke-width="0.8" />
<circle cx="857.8" cy="1025.7" r="2.2" fill="#3a3a3a" stroke="#222" stroke-width="0.8" />
<circle cx="810" cy="1012.9" r="2.2" fill="#3a3a3a" stroke="#222" stroke-width="0.8" />
<circle cx="775.1" cy="978" r="2.2" fill="#3a3a3a" stroke="#222" stroke-width="0.8" />
<circle cx="762.3" cy="930.2" r="2.2" fill="#3a3a3a" stroke="#222" stroke-width="0.8" />
<circle cx="775.1" cy="882.5" r="2.2" fill="#3a3a3a" stroke="#222" stroke-width="0.8" />
<circle cx="810" cy="847.5" r="2.2" fill="#3a3a3a" stroke="#222" stroke-width="0.8" />
<circle cx="857.8" cy="834.7" r="2.2" fill="#3a3a3a" stroke="#222" stroke-width="0.8" />
<circle cx="905.5" cy="847.5" r="2.2" fill="#3a3a3a" stroke="#222" stroke-width="0.8" />
<circle cx="940.5" cy="882.5" r="2.2" fill="#3a3a3a" stroke="#222" stroke-width="0.8" />
<circle cx="857.8" cy="930.2" r="95.5" fill="none" stroke="#2a2a2a" stroke-width="0.9" stroke-dasharray="22 6"/>
<clipPath id="d4wm"><rect x="755" y="880" width="210" height="80"/></clipPath>
<g clip-path="url(#d4wm)"><text x="757" y="945.5" font-size="50" font-weight="bold" fill="#ffffff" fill-opacity="0.4" >ukrvent.ua</text></g>
<line x1="753.2" y1="930.2" x2="963.8" y2="930.2" stroke="#1c1c1c" stroke-width="1.1" />
<line x1="857.8" y1="825.3" x2="857.8" y2="1033.7" stroke="#1c1c1c" stroke-width="1.1" />
<text x="720" y="799.8" font-size="24" fill="#1c1c1c" >ø492</text>
<line x1="715.5" y1="806" x2="780.9" y2="806" stroke="#1c1c1c" stroke-width="1.1" />
<line x1="780.9" y1="806" x2="809.7" y2="856.3" stroke="#1c1c1c" stroke-width="1.3" />
<line x1="807.5" y1="852.5" x2="910.6" y2="1018.2" stroke="#1c1c1c" stroke-width="2" /><polygon points="807.5,852.5 818.2,864.7 813.7,867.5" fill="#1c1c1c" stroke="none" stroke-width="1" /><polygon points="910.6,1018.2 899.9,1006 904.4,1003.2" fill="#1c1c1c" stroke="none" stroke-width="1" />
<text x="902.8" y="799.8" font-size="24" fill="#1c1c1c" >ø460</text>
<line x1="895" y1="806" x2="964.9" y2="806" stroke="#1c1c1c" stroke-width="1.1" />
<line x1="895" y1="806" x2="881" y2="853" stroke="#1c1c1c" stroke-width="1.3" />
<line x1="882.2" y1="849" x2="829.7" y2="1022.6" stroke="#1c1c1c" stroke-width="2" /><polygon points="882.2,849 880.2,865.1 875,863.5" fill="#1c1c1c" stroke="none" stroke-width="1" /><polygon points="829.7,1022.6 831.7,1006.5 836.9,1008.1" fill="#1c1c1c" stroke="none" stroke-width="1" />
<text x="708.8" y="1037" font-size="24" fill="#1c1c1c" >ø418</text>
<line x1="703.3" y1="1041.5" x2="775.3" y2="1041.5" stroke="#1c1c1c" stroke-width="1.1" />
<line x1="775.3" y1="1041.5" x2="812" y2="992.5" stroke="#1c1c1c" stroke-width="1.3" />
<line x1="811" y1="994" x2="909.5" y2="860.8" stroke="#1c1c1c" stroke-width="2" /><polygon points="811,994 818.3,979.5 822.7,982.7" fill="#1c1c1c" stroke="none" stroke-width="1" /><polygon points="909.5,860.8 902.2,875.3 897.8,872.1" fill="#1c1c1c" stroke="none" stroke-width="1" />
<text x="860.7" y="1057" font-size="24" fill="#1c1c1c" >12 отв.ø14</text>
<line x1="858.5" y1="1062.5" x2="1002.6" y2="1062.5" stroke="#1c1c1c" stroke-width="1.1" />
<line x1="1002.6" y1="1062.5" x2="957.1" y2="930.6" stroke="#1c1c1c" stroke-width="2.2" /><polygon points="957.1,930.6 965.8,946.6 960.1,948.6" fill="#1c1c1c" stroke="none" stroke-width="1" />
</g>
<g id="draw5">
<text x="1225.2" y="771" font-size="31" font-weight="bold" text-anchor="middle" fill="#1a1a1a" >Б</text>
<defs><linearGradient id="d5red" x1="0" y1="0" x2="0" y2="1"><stop offset="0" stop-color="#984e4e"/><stop offset="0.5" stop-color="#a05656"/><stop offset="1" stop-color="#a55b5b"/></linearGradient></defs>
<rect x="1160.4" y="838.6" width="131.9" height="184.4" fill="#c2c2c2" stroke="#9a9a9a" stroke-width="1" />
<rect x="1178.6" y="855.9" width="96.4" height="149.6" fill="url(#d5red)" stroke="#2c2424" stroke-width="2.2" />
<rect x="1273" y="857" width="2" height="147.5" fill="#5a3a3a" stroke="none" stroke-width="1" />
<line x1="1178.6" y1="992" x2="1275" y2="992" stroke="#4a2c2c" stroke-width="2" />
<polygon points="1183,956 1228,956 1247,987 1183,987" fill="#8a4242" stroke="#2c2020" stroke-width="1.4" />
<rect x="1184" y="958" width="44" height="26" fill="#3c2222" stroke="none" stroke-width="1" />
<line x1="1186" y1="963.5" x2="1227" y2="963.5" stroke="#b05050" stroke-width="3.2" />
<line x1="1186" y1="971" x2="1227" y2="971" stroke="#b05050" stroke-width="3.2" />
<line x1="1186" y1="978.5" x2="1227" y2="978.5" stroke="#b05050" stroke-width="3.2" />
<rect x="1270.5" y="867" width="2.5" height="4" fill="#ccc" stroke="#444" stroke-width="0.6" />
<rect x="1270.5" y="881" width="2.5" height="4" fill="#ccc" stroke="#444" stroke-width="0.6" />
<rect x="1270.5" y="915" width="2.5" height="4" fill="#ccc" stroke="#444" stroke-width="0.6" />
<rect x="1270.5" y="951" width="2.5" height="4" fill="#ccc" stroke="#444" stroke-width="0.6" />
<rect x="1270.5" y="967" width="2.5" height="4" fill="#ccc" stroke="#444" stroke-width="0.6" />
<rect x="1179.5" y="939.5" width="2.5" height="3" fill="#ccc" stroke="#444" stroke-width="0.6" />
<rect x="1179.5" y="947.5" width="2.5" height="3" fill="#ccc" stroke="#444" stroke-width="0.6" />
<rect x="1179.5" y="960.5" width="2.5" height="3" fill="#ccc" stroke="#444" stroke-width="0.6" />
<rect x="1179.5" y="979.5" width="2.5" height="3" fill="#ccc" stroke="#444" stroke-width="0.6" />
<circle cx="1168.2" cy="846.8" r="2.6" fill="#d8d8d8" stroke="#222" stroke-width="1" />
<line x1="1163.6" y1="846.8" x2="1172.8" y2="846.8" stroke="#111" stroke-width="1" />
<line x1="1168.2" y1="842.2" x2="1168.2" y2="851.4" stroke="#111" stroke-width="1" />
<circle cx="1168.2" cy="1013.8" r="2.6" fill="#d8d8d8" stroke="#222" stroke-width="1" />
<line x1="1163.6" y1="1013.8" x2="1172.8" y2="1013.8" stroke="#111" stroke-width="1" />
<line x1="1168.2" y1="1009.2" x2="1168.2" y2="1018.4" stroke="#111" stroke-width="1" />
<circle cx="1207.4" cy="846.8" r="2.6" fill="#d8d8d8" stroke="#222" stroke-width="1" />
<line x1="1202.8" y1="846.8" x2="1212" y2="846.8" stroke="#111" stroke-width="1" />
<line x1="1207.4" y1="842.2" x2="1207.4" y2="851.4" stroke="#111" stroke-width="1" />
<circle cx="1207.4" cy="1013.8" r="2.6" fill="#d8d8d8" stroke="#222" stroke-width="1" />
<line x1="1202.8" y1="1013.8" x2="1212" y2="1013.8" stroke="#111" stroke-width="1" />
<line x1="1207.4" y1="1009.2" x2="1207.4" y2="1018.4" stroke="#111" stroke-width="1" />
<circle cx="1245.1" cy="846.8" r="2.6" fill="#d8d8d8" stroke="#222" stroke-width="1" />
<line x1="1240.5" y1="846.8" x2="1249.7" y2="846.8" stroke="#111" stroke-width="1" />
<line x1="1245.1" y1="842.2" x2="1245.1" y2="851.4" stroke="#111" stroke-width="1" />
<circle cx="1245.1" cy="1013.8" r="2.6" fill="#d8d8d8" stroke="#222" stroke-width="1" />
<line x1="1240.5" y1="1013.8" x2="1249.7" y2="1013.8" stroke="#111" stroke-width="1" />
<line x1="1245.1" y1="1009.2" x2="1245.1" y2="1018.4" stroke="#111" stroke-width="1" />
<circle cx="1283.9" cy="846.8" r="2.6" fill="#d8d8d8" stroke="#222" stroke-width="1" />
<line x1="1279.3" y1="846.8" x2="1288.5" y2="846.8" stroke="#111" stroke-width="1" />
<line x1="1283.9" y1="842.2" x2="1283.9" y2="851.4" stroke="#111" stroke-width="1" />
<circle cx="1283.9" cy="1013.8" r="2.6" fill="#d8d8d8" stroke="#222" stroke-width="1" />
<line x1="1279.3" y1="1013.8" x2="1288.5" y2="1013.8" stroke="#111" stroke-width="1" />
<line x1="1283.9" y1="1009.2" x2="1283.9" y2="1018.4" stroke="#111" stroke-width="1" />
<circle cx="1168.2" cy="881.4" r="2.6" fill="#d8d8d8" stroke="#222" stroke-width="1" />
<line x1="1163.6" y1="881.4" x2="1172.8" y2="881.4" stroke="#111" stroke-width="1" />
<line x1="1168.2" y1="876.8" x2="1168.2" y2="886" stroke="#111" stroke-width="1" />
<circle cx="1283.9" cy="881.4" r="2.6" fill="#d8d8d8" stroke="#222" stroke-width="1" />
<line x1="1279.3" y1="881.4" x2="1288.5" y2="881.4" stroke="#111" stroke-width="1" />
<line x1="1283.9" y1="876.8" x2="1283.9" y2="886" stroke="#111" stroke-width="1" />
<circle cx="1168.2" cy="914" r="2.6" fill="#d8d8d8" stroke="#222" stroke-width="1" />
<line x1="1163.6" y1="914" x2="1172.8" y2="914" stroke="#111" stroke-width="1" />
<line x1="1168.2" y1="909.4" x2="1168.2" y2="918.6" stroke="#111" stroke-width="1" />
<circle cx="1283.9" cy="914" r="2.6" fill="#d8d8d8" stroke="#222" stroke-width="1" />
<line x1="1279.3" y1="914" x2="1288.5" y2="914" stroke="#111" stroke-width="1" />
<line x1="1283.9" y1="909.4" x2="1283.9" y2="918.6" stroke="#111" stroke-width="1" />
<circle cx="1168.2" cy="947.2" r="2.6" fill="#d8d8d8" stroke="#222" stroke-width="1" />
<line x1="1163.6" y1="947.2" x2="1172.8" y2="947.2" stroke="#111" stroke-width="1" />
<line x1="1168.2" y1="942.6" x2="1168.2" y2="951.8" stroke="#111" stroke-width="1" />
<circle cx="1283.9" cy="947.2" r="2.6" fill="#d8d8d8" stroke="#222" stroke-width="1" />
<line x1="1279.3" y1="947.2" x2="1288.5" y2="947.2" stroke="#111" stroke-width="1" />
<line x1="1283.9" y1="942.6" x2="1283.9" y2="951.8" stroke="#111" stroke-width="1" />
<circle cx="1168.2" cy="981" r="2.6" fill="#d8d8d8" stroke="#222" stroke-width="1" />
<line x1="1163.6" y1="981" x2="1172.8" y2="981" stroke="#111" stroke-width="1" />
<line x1="1168.2" y1="976.4" x2="1168.2" y2="985.6" stroke="#111" stroke-width="1" />
<circle cx="1283.9" cy="981" r="2.6" fill="#d8d8d8" stroke="#222" stroke-width="1" />
<line x1="1279.3" y1="981" x2="1288.5" y2="981" stroke="#111" stroke-width="1" />
<line x1="1283.9" y1="976.4" x2="1283.9" y2="985.6" stroke="#111" stroke-width="1" />
<clipPath id="d5wm"><rect x="1105" y="890" width="215" height="60"/></clipPath>
<g clip-path="url(#d5wm)"><text x="1109.7" y="936.7" font-size="41.5" font-weight="bold" fill="#444" fill-opacity="0.08" >ukrvent.ua</text><text x="1109" y="936" font-size="41.5" font-weight="bold" fill="#ffffff" fill-opacity="0.4" >ukrvent.ua</text></g>
<line x1="1226.7" y1="838.6" x2="1226.7" y2="1029.3" stroke="#1c1c1c" stroke-width="1.1" />
<line x1="1167.5" y1="931.3" x2="1286" y2="931.3" stroke="#1c1c1c" stroke-width="1.1" />
<line x1="1179.3" y1="825.3" x2="1179.3" y2="856.4" stroke="#1c1c1c" stroke-width="1.1" />
<line x1="1274" y1="825.3" x2="1274" y2="856.4" stroke="#1c1c1c" stroke-width="1.1" />
<line x1="1179.3" y1="827.5" x2="1274" y2="827.5" stroke="#1c1c1c" stroke-width="2" /><polygon points="1179.3,827.5 1196.3,824.8 1196.3,830.2" fill="#1c1c1c" stroke="none" stroke-width="1" /><polygon points="1274,827.5 1257,830.2 1257,824.8" fill="#1c1c1c" stroke="none" stroke-width="1" />
<text x="1229.2" y="822" font-size="23.6" text-anchor="middle" fill="#1c1c1c" >225</text>
<text x="1113.5" y="900" font-size="24" text-anchor="middle" fill="#1c1c1c" transform="rotate(-90 1113.5 900)" >16 отв. ø14</text>
<line x1="1117.2" y1="825.3" x2="1117.2" y2="963.9" stroke="#1c1c1c" stroke-width="1.1" />
<line x1="1117.2" y1="825.3" x2="1198.6" y2="860.8" stroke="#1c1c1c" stroke-width="2.2" /><polygon points="1198.6,860.8 1180.9,856.4 1183.3,850.9" fill="#1c1c1c" stroke="none" stroke-width="1" />
<line x1="1142" y1="856.8" x2="1178.6" y2="856.8" stroke="#1c1c1c" stroke-width="1.1" />
<line x1="1142" y1="1005.5" x2="1178.6" y2="1005.5" stroke="#1c1c1c" stroke-width="1.1" />
<line x1="1146.5" y1="856.8" x2="1146.5" y2="1005.5" stroke="#1c1c1c" stroke-width="2" /><polygon points="1146.5,856.8 1149.2,873.8 1143.8,873.8" fill="#1c1c1c" stroke="none" stroke-width="1" /><polygon points="1146.5,1005.5 1143.8,988.5 1149.2,988.5" fill="#1c1c1c" stroke="none" stroke-width="1" />
<text x="1141.5" y="927.7" font-size="23.6" text-anchor="middle" fill="#1c1c1c" transform="rotate(-90 1141.5 927.7)" >351</text>
<line x1="1292.3" y1="838.6" x2="1391.4" y2="838.6" stroke="#1c1c1c" stroke-width="1.1" />
<line x1="1283.9" y1="846.8" x2="1359.3" y2="846.8" stroke="#1c1c1c" stroke-width="1.1" />
<line x1="1283.9" y1="1013.8" x2="1359.3" y2="1013.8" stroke="#1c1c1c" stroke-width="1.1" />
<line x1="1292.3" y1="1023" x2="1391.4" y2="1023" stroke="#1c1c1c" stroke-width="1.1" />
<line x1="1354.9" y1="846.8" x2="1354.9" y2="1013.8" stroke="#1c1c1c" stroke-width="2" /><polygon points="1354.9,846.8 1357.6,863.8 1352.2,863.8" fill="#1c1c1c" stroke="none" stroke-width="1" /><polygon points="1354.9,1013.8 1352.2,996.8 1357.6,996.8" fill="#1c1c1c" stroke="none" stroke-width="1" />
<text x="1347.5" y="932.8" font-size="23.6" text-anchor="middle" fill="#1c1c1c" transform="rotate(-90 1347.5 932.8)" >79x5=395</text>
<line x1="1382.1" y1="838.6" x2="1382.1" y2="1023" stroke="#1c1c1c" stroke-width="2" /><polygon points="1382.1,838.6 1384.8,855.6 1379.4,855.6" fill="#1c1c1c" stroke="none" stroke-width="1" /><polygon points="1382.1,1023 1379.4,1006 1384.8,1006" fill="#1c1c1c" stroke="none" stroke-width="1" />
<text x="1377.5" y="938.4" font-size="23.6" text-anchor="middle" fill="#1c1c1c" transform="rotate(-90 1377.5 938.4)" >437</text>
<line x1="1283.9" y1="981" x2="1325" y2="981" stroke="#1c1c1c" stroke-width="1.1" />
<line x1="1320" y1="956" x2="1320" y2="981" stroke="#1c1c1c" stroke-width="2.2" /><polygon points="1320,981 1317.3,964 1322.7,964" fill="#1c1c1c" stroke="none" stroke-width="1" />
<line x1="1320" y1="1038" x2="1320" y2="1013.8" stroke="#1c1c1c" stroke-width="2.2" /><polygon points="1320,1013.8 1322.7,1030.8 1317.3,1030.8" fill="#1c1c1c" stroke="none" stroke-width="1" />
<line x1="1320" y1="981" x2="1320" y2="1013.8" stroke="#1c1c1c" stroke-width="1.1" />
<text x="1314.5" y="996" font-size="23.6" text-anchor="middle" fill="#1c1c1c" transform="rotate(-90 1314.5 996)" >79</text>
<line x1="1245.1" y1="1013.8" x2="1245.1" y2="1053.7" stroke="#1c1c1c" stroke-width="1.1" />
<line x1="1283.9" y1="1013.8" x2="1283.9" y2="1086.9" stroke="#1c1c1c" stroke-width="1.1" />
<line x1="1220.7" y1="1050.3" x2="1245.1" y2="1050.3" stroke="#1c1c1c" stroke-width="2" /><polygon points="1245.1,1050.3 1228.1,1053 1228.1,1047.6" fill="#1c1c1c" stroke="none" stroke-width="1" />
<line x1="1308.3" y1="1050.3" x2="1283.9" y2="1050.3" stroke="#1c1c1c" stroke-width="2" /><polygon points="1283.9,1050.3 1300.9,1047.6 1300.9,1053" fill="#1c1c1c" stroke="none" stroke-width="1" />
<line x1="1245.1" y1="1050.3" x2="1283.9" y2="1050.3" stroke="#1c1c1c" stroke-width="1.1" />
<text x="1264" y="1045.9" font-size="23.6" text-anchor="middle" fill="#1c1c1c" >91</text>
<line x1="1168.2" y1="1013.8" x2="1168.2" y2="1084.7" stroke="#1c1c1c" stroke-width="1.1" />
<line x1="1168.2" y1="1081.4" x2="1283.9" y2="1081.4" stroke="#1c1c1c" stroke-width="2" /><polygon points="1168.2,1081.4 1185.2,1078.7 1185.2,1084.1" fill="#1c1c1c" stroke="none" stroke-width="1" /><polygon points="1283.9,1081.4 1266.9,1084.1 1266.9,1078.7" fill="#1c1c1c" stroke="none" stroke-width="1" />
<text x="1227.4" y="1077" font-size="23.6" text-anchor="middle" fill="#1c1c1c" >91x3=273</text>
<line x1="1160.4" y1="1023" x2="1160.4" y2="1113.5" stroke="#1c1c1c" stroke-width="1.1" />
<line x1="1292.3" y1="1023" x2="1292.3" y2="1113.5" stroke="#1c1c1c" stroke-width="1.1" />
<line x1="1160.4" y1="1110.9" x2="1292.3" y2="1110.9" stroke="#1c1c1c" stroke-width="2" /><polygon points="1160.4,1110.9 1177.4,1108.2 1177.4,1113.6" fill="#1c1c1c" stroke="none" stroke-width="1" /><polygon points="1292.3,1110.9 1275.3,1113.6 1275.3,1108.2" fill="#1c1c1c" stroke="none" stroke-width="1" />
<text x="1228.5" y="1104.6" font-size="23.6" text-anchor="middle" fill="#1c1c1c" >313</text>
</g>
<g id="iso">
<defs><linearGradient id="isoband" gradientUnits="userSpaceOnUse" x1="1110" y1="1960" x2="1400" y2="1680"><stop offset="0" stop-color="#8e8e8e"/><stop offset="0.25" stop-color="#b2b2b2"/><stop offset="0.5" stop-color="#d2d2d2"/><stop offset="0.62" stop-color="#ececec"/><stop offset="0.8" stop-color="#c6c6c6"/><stop offset="1" stop-color="#9a9a9a"/></linearGradient><linearGradient id="isoface" gradientUnits="userSpaceOnUse" x1="1300" y1="1720" x2="1250" y2="2050"><stop offset="0" stop-color="#7c7c7c"/><stop offset="1" stop-color="#8e8e8e"/></linearGradient><linearGradient id="isocyl" gradientUnits="userSpaceOnUse" x1="1290" y1="1840" x2="1390" y2="2040"><stop offset="0" stop-color="#868686"/><stop offset="0.28" stop-color="#ececec"/><stop offset="0.55" stop-color="#c8c8c8"/><stop offset="1" stop-color="#6c6c6c"/></linearGradient><linearGradient id="isored" gradientUnits="userSpaceOnUse" x1="1340" y1="1900" x2="1440" y2="2030"><stop offset="0" stop-color="#9c4a4a"/><stop offset="1" stop-color="#b25e5e"/></linearGradient><linearGradient id="isoshaft" x1="0" y1="0" x2="1" y2="1"><stop offset="0" stop-color="#9a9a9a"/><stop offset="0.4" stop-color="#fafafa"/><stop offset="1" stop-color="#8a8a8a"/></linearGradient></defs>
<polygon points="874.4,1891.7 893.3,1878.4 1169.2,2046.8 1154.8,2056.8" fill="#fff" stroke="#1c1c1c" stroke-width="1.7" />
<polygon points="930.9,1822.9 1070.6,1896.1 1070.6,1914.9 930.9,1844" fill="#aaa2b8" stroke="#1c1c1c" stroke-width="1.6" />
<polygon points="933.2,1850.6 957.5,1863.9 933.2,1878.4" fill="#cfcfd4" stroke="#1c1c1c" stroke-width="1" />
<polygon points="891,1862.8 898.8,1867.3 1119.4,1990.3 1119.4,2009.1 891,1881.7" fill="#aaa2b8" stroke="#1c1c1c" stroke-width="1.7" />
<polygon points="891,1862.8 898.8,1867.3 898.8,1886.1 891,1881.7" fill="#9890a8" stroke="#1c1c1c" stroke-width="1" />
<polygon points="911.4,1806.8 930.9,1822.9 930.9,1881.7 911.4,1870.6" fill="#aaa2b8" stroke="#1c1c1c" stroke-width="1.7" />
<polygon points="911.4,1806.3 1035.1,1735.4 1139.3,1785.2 1121.6,1855.1 1070.6,1879.5" fill="#fff" stroke="#1c1c1c" stroke-width="1.8" />
<ellipse cx="1017.4" cy="1760.9" rx="2.6" ry="2.2" fill="#111" stroke="none" stroke-width="1" />
<ellipse cx="1028.9" cy="1767.5" rx="2.6" ry="2.2" fill="#111" stroke="none" stroke-width="1" />
<ellipse cx="954.2" cy="1797.4" rx="2.6" ry="2.2" fill="#111" stroke="none" stroke-width="1" />
<ellipse cx="965.3" cy="1804.1" rx="2.6" ry="2.2" fill="#111" stroke="none" stroke-width="1" />
<ellipse cx="1006.3" cy="1827.8" rx="2.6" ry="2.2" fill="#111" stroke="none" stroke-width="1" />
<polygon points="1070.6,1879.5 1121.6,1855.1 1121.6,1988.1 1070.6,1970.4" fill="#fff" stroke="#1c1c1c" stroke-width="1.2" />
<polygon points="1090.5,1892.8 1110.5,1899.4 1110.5,1917.1 1090.5,1910.5" fill="#aaa2b8" stroke="#1c1c1c" stroke-width="1" />
<polygon points="1090.5,1939.3 1110.5,1946 1110.5,1954.8 1090.5,1948.2" fill="#cfcfd4" stroke="#1c1c1c" stroke-width="1" />
<polygon points="1049.5,1895 1070.6,1881.7 1088.3,1890.5 1088.3,1974.8 1070.6,1970.4 1049.5,1954.8" fill="#aaa2b8" stroke="#1c1c1c" stroke-width="1.7" />
<polygon points="1058.4,1900.5 1069.5,1906.1 1069.5,1926 1058.4,1920.5" fill="#fff" stroke="#1c1c1c" stroke-width="1" />
<polygon points="1058.4,1934.9 1069.5,1940.4 1069.5,1963.7 1058.4,1955.9" fill="#fff" stroke="#1c1c1c" stroke-width="1" />
<polygon points="1076.1,1910.5 1081.7,1913.2 1081.7,1932.7 1076.1,1930" fill="#fff" stroke="#1c1c1c" stroke-width="1" />
<polygon points="1076.1,1943.8 1081.7,1946.4 1081.7,1969.2 1076.1,1965.9" fill="#fff" stroke="#1c1c1c" stroke-width="1" />
<path d="M966.4,1920.5 C960.5,1913.6 964.9,1905.1 966.4,1899.4 C967.9,1893.7 971.6,1888.7 975.3,1886.1 C979,1883.5 984.1,1883.2 988.6,1883.9 C993,1884.6 998.2,1886.9 1001.9,1890.5 C1005.6,1894.2 1009.1,1896.8 1010.7,1906.1 C1012.4,1915.3 1013.3,1940.2 1011.9,1946 C1010.4,1951.7 1009.4,1944.7 1001.9,1940.4 C994.3,1936.2 972.3,1927.3 966.4,1920.5 Z" fill="#aaa2b8" stroke="#1c1c1c" stroke-width="1.4" />
<ellipse cx="989.7" cy="1908.3" rx="11" ry="8" fill="#fff" stroke="#1c1c1c" stroke-width="1.7" transform="rotate(28 989.7 1908.3)"/>
<ellipse cx="893.3" cy="1892.3" rx="2.4" ry="1.8" fill="#333" stroke="none" stroke-width="1" />
<ellipse cx="1024" cy="1967.7" rx="2.4" ry="1.8" fill="#333" stroke="none" stroke-width="1" />
<ellipse cx="1153.7" cy="2044.6" rx="2.4" ry="1.8" fill="#333" stroke="none" stroke-width="1" />
<polygon points="1035.1,1845.1 1045.1,1838.5 1085,1859.5 1073.9,1869.5" fill="#e6e63c" stroke="#b8b830" stroke-width="0.8" />
<polygon points="1044,1768.6 1088.3,1793 1088.3,1860.6 1044,1844" fill="#a9a854" stroke="none" stroke-width="1" />
<polygon points="1088.3,1793 1143.8,1759.8 1143.8,1801.9 1095,1859.5 1088.3,1860.6" fill="#8f8e46" stroke="none" stroke-width="1" />
<polygon points="1044,1768.6 1098.3,1735.4 1143.8,1759.8 1088.3,1793" fill="#f1f05a" stroke="none" stroke-width="1" />
<ellipse cx="1046.2" cy="1850.2" rx="2" ry="1.6" fill="#222" stroke="none" stroke-width="1" />
<polygon points="1105,1798.6 1123.8,1787.5 1148.2,1799.7 1137.1,1837.3 1114.9,1828.5" fill="url(#isoshaft)" stroke="#777" stroke-width="0.8" />
<ellipse cx="1111.6" cy="1813" rx="9" ry="17" fill="#e4e4ec" stroke="#999" stroke-width="0.8" transform="rotate(25 1111.6 1813)"/>
<ellipse cx="1129.3" cy="1818.5" rx="11" ry="21" fill="none" stroke="#444" stroke-width="1.6" transform="rotate(25 1129.3 1818.5)"/>
<path d="M1111,1926 C1111.4,1921.7 1112.2,1907.4 1113.5,1900 C1114.8,1892.6 1115.7,1892.2 1118.8,1881.7 C1121.9,1871.2 1126.9,1850.6 1132.1,1837.3 C1137.3,1824 1142.1,1815.2 1149.9,1801.9 C1157.7,1788.6 1168,1771.2 1178.7,1757.5 C1189.4,1743.8 1201.5,1731 1214.1,1719.9 C1226.6,1708.8 1240.7,1698.4 1254,1691 C1267.3,1683.6 1280.6,1678.7 1293.9,1675.5 C1307.2,1672.3 1321.6,1671.2 1333.8,1671.8 C1346,1672.4 1356.4,1674.3 1367.1,1679 C1377.8,1683.7 1390.7,1694.9 1398.1,1700 C1405.5,1705.1 1409.3,1708 1411.6,1709.6 L1434.2,1725.1 L1468.2,1779 L1476.7,1858.3 L1454.1,1943.3L1347.5,2059 C1344.7,2060.5 1338.3,2065.4 1330.9,2068.2 C1323.5,2071 1312.4,2074.6 1303.2,2075.6 C1294,2076.6 1283.2,2073.4 1275.5,2074 C1267.8,2074.6 1264.1,2078.1 1257,2079.3 C1249.9,2080.5 1240.7,2082.1 1233,2081.2 C1225.3,2080.3 1218.5,2077.5 1210.8,2073.8 C1203.1,2070.1 1194.5,2064.2 1186.8,2059 C1179.1,2053.8 1172.1,2048.2 1164.7,2042.4 C1157.3,2036.6 1149.3,2030.7 1142.5,2023.9 C1135.7,2017.1 1128.9,2009.4 1124,2001.7 C1119.1,1994 1115.5,1986.3 1112.9,1977.7 C1110.3,1969.1 1109.2,1954.6 1108.5,1950 Z" fill="url(#isoband)" stroke="#1e1e1e" stroke-width="1.8" stroke-linejoin="round"/>
<polygon points="1173.9,1999 1200,2014 1240.4,2036.8 1260,2052 1275.5,2072.9 1257,2079.3 1233,2081.2 1210.8,2073.8 1186.8,2059 1164.7,2042.4 1150,2030 1160,2012" fill="#a2a2a2" stroke="#333" stroke-width="1.1" />
<path d="M1411.6,1709.6 C1406,1710.2 1390.4,1709.6 1378.2,1713.2 C1366,1716.8 1345,1728 1338.3,1731L1335.1,1727.5 C1332.7,1729 1328.1,1731.1 1320.5,1736.5 C1312.9,1741.9 1299.1,1751.1 1289.5,1759.8 C1279.9,1768.5 1271,1777.9 1262.9,1788.6 C1254.8,1799.3 1247.4,1812.2 1240.7,1824 C1234,1835.8 1228.2,1847.7 1223,1859.5 C1217.8,1871.3 1213.8,1882.4 1209.7,1895 C1205.6,1907.6 1201.9,1923.2 1198.6,1934.9 C1195.3,1946.6 1193.8,1954.3 1190,1965 C1186.2,1975.7 1178.3,1993.3 1176,1999L1176,1999 C1182.2,2002.7 1201.4,2014.2 1213.3,2021 C1225.2,2027.8 1233.1,2034.1 1247.3,2040 C1261.5,2045.9 1280.4,2054.8 1298.3,2056.6 C1316.2,2058.4 1345.5,2051.8 1354.9,2050.9 L1411.6,2014.1 L1454.1,1943.3 L1476.7,1858.3 L1468.2,1779 L1434.2,1725.1 Z" fill="url(#isoface)" stroke="#2a2a2a" stroke-width="1.5" stroke-linejoin="round"/>
<line x1="1147.6" y1="1813" x2="1209.7" y2="1846.2" stroke="#2a2a2a" stroke-width="1.3" />
<path d="M1180.9,1835.1 C1178,1841 1168,1857.3 1163.2,1870.6 C1158.4,1883.9 1154.9,1900.1 1152,1915 C1149.1,1929.9 1146,1945.8 1146,1960 C1146,1974.2 1148.3,1988.3 1152,2000 C1155.7,2011.7 1161.9,2020.5 1168,2030 C1174.1,2039.5 1185.2,2052.6 1188.7,2057.1" fill="none" stroke="#444" stroke-width="0.9" stroke-dasharray="6 2"/>
<polygon points="1322.8,1735.4 1338.3,1734.3 1185,2002.5 1173.9,1995.3" fill="#c9c9c9" stroke="#333" stroke-width="1.2" />
<polygon points="1434.2,1725.1 1444.2,1711.6 1530.5,1765.4 1524.9,1774.7 1473.9,1862.5 1448.4,1859.7 1434.2,1830" fill="#7b7b7b" stroke="#222" stroke-width="1.3" />
<polygon points="1431.4,1720.9 1441.3,1711 1531.1,1765.4 1524,1775.6 1516.4,1771.9 1444.2,1725.7 1438.5,1729.4" fill="#cfcfcf" stroke="#333" stroke-width="1" />
<polygon points="1516.4,1771.9 1524,1775.6 1474.5,1863.4 1465.4,1859.7 1507.9,1779" fill="#cfcfcf" stroke="#333" stroke-width="1" />
<circle cx="1438.5" cy="1719.5" r="1.8" fill="#444" stroke="none" stroke-width="1" />
<circle cx="1465.4" cy="1735.9" r="1.8" fill="#444" stroke="none" stroke-width="1" />
<circle cx="1492.3" cy="1752.1" r="1.8" fill="#444" stroke="none" stroke-width="1" />
<circle cx="1519.2" cy="1769.1" r="1.8" fill="#444" stroke="none" stroke-width="1" />
<circle cx="1503.6" cy="1798.8" r="1.8" fill="#444" stroke="none" stroke-width="1" />
<circle cx="1486.6" cy="1828.5" r="1.8" fill="#444" stroke="none" stroke-width="1" />
<circle cx="1469.6" cy="1855.4" r="1.8" fill="#444" stroke="none" stroke-width="1" />
<path d="M1386.1,1796 C1384.2,1788.4 1394.6,1780.9 1400.2,1773.3 C1405.9,1765.7 1413.5,1756.3 1420.1,1750.6 C1426.7,1745 1433.1,1740.7 1439.9,1739.3 C1446.8,1737.9 1455.7,1738.4 1461.1,1742.1 C1466.6,1745.9 1471.3,1753.5 1472.5,1762 C1473.7,1770.5 1471.3,1782.3 1468.2,1793.1 C1465.2,1804 1459.3,1818.6 1454.1,1827.1 C1448.9,1835.6 1444.2,1845.5 1437.1,1844.1 C1430,1842.7 1420.1,1826.6 1411.6,1818.6 C1403.1,1810.6 1388,1803.5 1386.1,1796 Z" fill="#8a8a8a" stroke="#2a2a2a" stroke-width="1.2" />
<ellipse cx="1430" cy="1798.8" rx="20" ry="32" fill="#7a7a7a" stroke="#222" stroke-width="1.2" transform="rotate(22 1430 1798.8)"/>
<circle cx="1425.7" cy="1753.5" r="2.2" fill="#555" stroke="#222" stroke-width="0.8" />
<circle cx="1454.1" cy="1753.5" r="2.2" fill="#555" stroke="#222" stroke-width="0.8" />
<circle cx="1465.4" cy="1779" r="2.2" fill="#555" stroke="#222" stroke-width="0.8" />
<circle cx="1400.2" cy="1787.5" r="2.2" fill="#555" stroke="#222" stroke-width="0.8" />
<circle cx="1448.4" cy="1813" r="2.2" fill="#555" stroke="#222" stroke-width="0.8" />
<ellipse cx="1346.5" cy="1936" rx="94.8" ry="144.9" fill="#727272" stroke="#1e1e1e" stroke-width="1.7" transform="rotate(28.7 1346.5 1936)"/>
<ellipse cx="1348.5" cy="1937" rx="87" ry="136" fill="#4e4e4e" stroke="#222" stroke-width="1.2" transform="rotate(28.7 1346.5 1936)"/>
<ellipse cx="1348.5" cy="1937" rx="87" ry="136" fill="none" stroke="#1a1a1a" stroke-width="3" stroke-dasharray="2 3" transform="rotate(28.7 1346.5 1936)"/>
<ellipse cx="1351.5" cy="1939" rx="82" ry="130" fill="#7c7c7c" stroke="#222" stroke-width="1.3" transform="rotate(28.7 1351.5 1939)"/>
<ellipse cx="1355.5" cy="1941" rx="74" ry="121" fill="url(#isocyl)" stroke="#222" stroke-width="1.8" transform="rotate(28.7 1355.5 1941)"/>
<ellipse cx="1355.5" cy="1941" rx="71.5" ry="118" fill="none" stroke="#2c2c2c" stroke-width="3" stroke-dasharray="2.5 6" transform="rotate(28.7 1355.5 1941)"/>
<line x1="1343.6" y1="1827.1" x2="1345" y2="1855.4" stroke="#2e2e2e" stroke-width="2.8" />
<line x1="1411.6" y1="1818.6" x2="1400.2" y2="1844.1" stroke="#2e2e2e" stroke-width="2.8" />
<line x1="1312.4" y1="1863.9" x2="1323.8" y2="1886.6" stroke="#2e2e2e" stroke-width="2.8" />
<line x1="1275.6" y1="1900.8" x2="1315.3" y2="1914.9" stroke="#2e2e2e" stroke-width="2.8" />
<line x1="1354.9" y1="1855.4" x2="1366.3" y2="1875.3" stroke="#2e2e2e" stroke-width="2.8" />
<line x1="1253" y1="1988.6" x2="1298.3" y2="1982.9" stroke="#2e2e2e" stroke-width="2.8" />
<line x1="1275.6" y1="2016.9" x2="1309.6" y2="2036.7" stroke="#2e2e2e" stroke-width="2.8" />
<line x1="1258.6" y1="1977.2" x2="1281.3" y2="2011.2" stroke="#2e2e2e" stroke-width="2.8" />
<line x1="1386.1" y1="1818.6" x2="1400.2" y2="1852.6" stroke="#2e2e2e" stroke-width="2.8" />
<line x1="1411.6" y1="1855.4" x2="1431.4" y2="1841.3" stroke="#2e2e2e" stroke-width="2.8" />
<line x1="1298.3" y1="1875.3" x2="1315.3" y2="1855.4" stroke="#2e2e2e" stroke-width="2.8" />
<line x1="1320.9" y1="1844.1" x2="1354.9" y2="1858.3" stroke="#2e2e2e" stroke-width="2.8" />
<line x1="1354.9" y1="1858.3" x2="1383.3" y2="1841.3" stroke="#2e2e2e" stroke-width="2.8" />
<line x1="1258.6" y1="2014.1" x2="1270" y2="2036.7" stroke="#2e2e2e" stroke-width="2.8" />
<line x1="1281.3" y1="2036.7" x2="1298.3" y2="2048.1" stroke="#2e2e2e" stroke-width="2.8" />
<polygon points="1309.6,1875.3 1323.8,1869.6 1329.4,1886.6 1316.7,1892.8" fill="#8a8a8a" stroke="#222" stroke-width="1.2" />
<polygon points="1272.8,1900.8 1281.3,1896.5 1318.1,1916.3 1311,1922" fill="#9a9a9a" stroke="#222" stroke-width="1.2" />
<polygon points="1258.6,1999.9 1275.6,2008.4 1270,2025.4 1257.2,2017.5" fill="#8a8a8a" stroke="#222" stroke-width="1.2" />
<polygon points="1275.6,2019.7 1298.3,2014.1 1306.8,2033.9 1286.9,2039.6" fill="#8a8a8a" stroke="#222" stroke-width="1.2" />
<circle cx="1315.3" cy="1869.6" r="2.8" fill="#4a4a4a" stroke="#1a1a1a" stroke-width="1" />
<circle cx="1357.8" cy="1869.6" r="2.8" fill="#4a4a4a" stroke="#1a1a1a" stroke-width="1" />
<circle cx="1366.3" cy="1858.3" r="2.8" fill="#4a4a4a" stroke="#1a1a1a" stroke-width="1" />
<circle cx="1303.9" cy="1914.9" r="2.8" fill="#4a4a4a" stroke="#1a1a1a" stroke-width="1" />
<circle cx="1315.3" cy="1923.4" r="2.8" fill="#4a4a4a" stroke="#1a1a1a" stroke-width="1" />
<circle cx="1295.4" cy="1982.9" r="2.8" fill="#4a4a4a" stroke="#1a1a1a" stroke-width="1" />
<circle cx="1309.6" cy="2036.7" r="2.8" fill="#4a4a4a" stroke="#1a1a1a" stroke-width="1" />
<circle cx="1295.4" cy="1886.6" r="2.8" fill="#4a4a4a" stroke="#1a1a1a" stroke-width="1" />
<circle cx="1275.6" cy="1929.1" r="2.8" fill="#4a4a4a" stroke="#1a1a1a" stroke-width="1" />
<circle cx="1261.5" cy="1968.7" r="2.8" fill="#4a4a4a" stroke="#1a1a1a" stroke-width="1" />
<circle cx="1420.1" cy="1846.9" r="2.8" fill="#4a4a4a" stroke="#1a1a1a" stroke-width="1" />
<circle cx="1405.9" cy="1858.3" r="2.8" fill="#4a4a4a" stroke="#1a1a1a" stroke-width="1" />
<circle cx="1340.8" cy="1841.3" r="2.8" fill="#4a4a4a" stroke="#1a1a1a" stroke-width="1" />
<circle cx="1326.6" cy="1855.4" r="2.8" fill="#4a4a4a" stroke="#1a1a1a" stroke-width="1" />
<circle cx="1383.3" cy="1832.8" r="2.8" fill="#4a4a4a" stroke="#1a1a1a" stroke-width="1" />
<circle cx="1284.1" cy="1943.3" r="2.8" fill="#4a4a4a" stroke="#1a1a1a" stroke-width="1" />
<circle cx="1270" cy="1960.2" r="2.8" fill="#4a4a4a" stroke="#1a1a1a" stroke-width="1" />
<circle cx="1258.6" cy="1991.4" r="2.8" fill="#4a4a4a" stroke="#1a1a1a" stroke-width="1" />
<circle cx="1281.3" cy="2028.2" r="2.8" fill="#4a4a4a" stroke="#1a1a1a" stroke-width="1" />
<ellipse cx="1395.5" cy="1967.9" rx="60.7" ry="99.9" fill="#777777" stroke="#1e1e1e" stroke-width="1.7" transform="rotate(27.2 1395.5 1967.9)"/>
<ellipse cx="1396.5" cy="1967.9" rx="52.5" ry="90.5" fill="url(#isored)" stroke="#2e2222" stroke-width="1.8" transform="rotate(27.2 1395.5 1967.9)"/>
<polygon points="1408.7,1895.1 1416.7,1897.4 1364.8,2038.1 1356.3,2034.5" fill="#b05c5c" stroke="#2e1c1c" stroke-width="1.2" />
<polygon points="1340.8,1965.3 1439.9,1957.4 1444.2,1963.6 1344.2,1972.7" fill="#b05c5c" stroke="#2e1c1c" stroke-width="1.2" />
<polygon points="1346.4,1946.1 1383.3,1923.4 1380.4,1963.1 1349.3,1965.9" fill="#8a4444" stroke="#2e1c1c" stroke-width="1" />
<polygon points="1383.3,1968.7 1391.8,2008.4 1354.9,2025.4" fill="#964a4a" stroke="#2e1c1c" stroke-width="1" />
<path d="M1349.3,1954.6 C1350.2,1950.8 1351.2,1938.5 1354.9,1931.9 C1358.7,1925.3 1366.7,1917.5 1371.9,1914.9 C1377.1,1912.3 1383.7,1916.1 1386.1,1916.3" fill="none" stroke="#2e1c1c" stroke-width="1.2" />
<circle cx="1437.4" cy="2008" r="1.5" fill="#222" stroke="none" stroke-width="1" />
<circle cx="1410.9" cy="2038.3" r="1.5" fill="#222" stroke="none" stroke-width="1" />
<circle cx="1381.3" cy="2054.6" r="1.5" fill="#222" stroke="none" stroke-width="1" />
<circle cx="1354.5" cy="2053.8" r="1.5" fill="#222" stroke="none" stroke-width="1" />
<circle cx="1335.9" cy="2035.9" r="1.5" fill="#222" stroke="none" stroke-width="1" />
<circle cx="1329" cy="2004.6" r="1.5" fill="#222" stroke="none" stroke-width="1" />
<circle cx="1335.3" cy="1966" r="1.5" fill="#222" stroke="none" stroke-width="1" />
<circle cx="1353.6" cy="1927.8" r="1.5" fill="#222" stroke="none" stroke-width="1" />
<circle cx="1380.1" cy="1897.5" r="1.5" fill="#222" stroke="none" stroke-width="1" />
<circle cx="1409.7" cy="1881.2" r="1.5" fill="#222" stroke="none" stroke-width="1" />
<circle cx="1436.5" cy="1882" r="1.5" fill="#222" stroke="none" stroke-width="1" />
<circle cx="1455.1" cy="1899.9" r="1.5" fill="#222" stroke="none" stroke-width="1" />
<circle cx="1462" cy="1931.2" r="1.5" fill="#222" stroke="none" stroke-width="1" />
<circle cx="1455.7" cy="1969.8" r="1.5" fill="#222" stroke="none" stroke-width="1" />
<line x1="1454.1" y1="1873" x2="1500.8" y2="1895.1" stroke="#333" stroke-width="4.6" stroke-linecap="round"/>
<line x1="1454.1" y1="1873" x2="1500.8" y2="1895.1" stroke="#cfcfcf" stroke-width="2.6" stroke-linecap="round"/>
<text x="0" y="0" font-size="26.3" font-weight="bold" font-style="italic" fill="#fff" transform="translate(1285.5,1839) rotate(-29.3)">ukrvent.ua</text>
</g>
</svg>
</body></html>
